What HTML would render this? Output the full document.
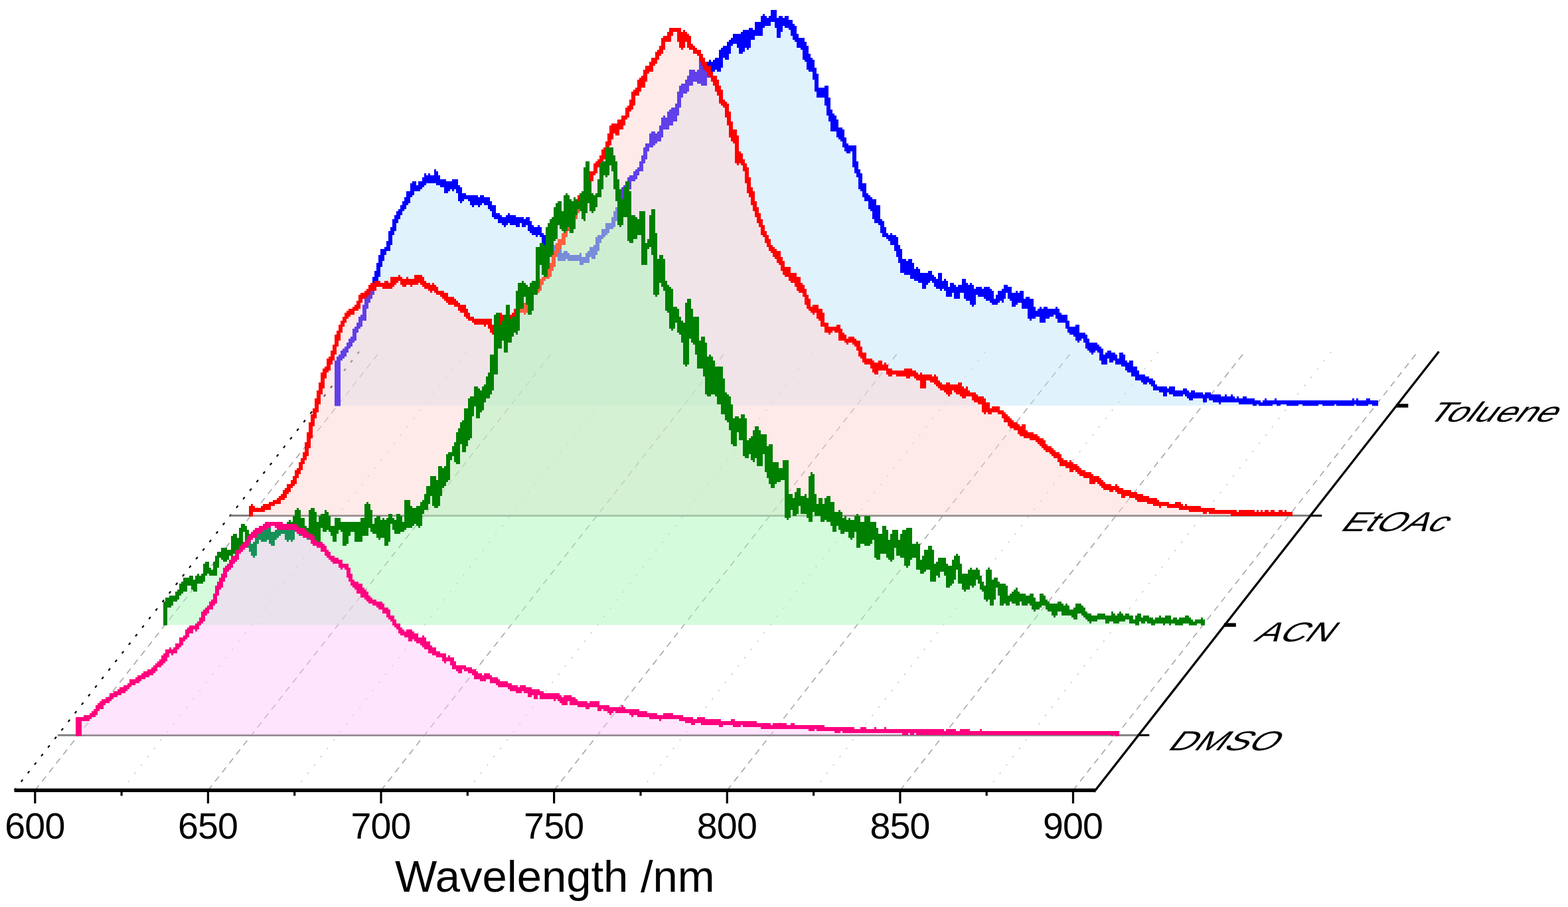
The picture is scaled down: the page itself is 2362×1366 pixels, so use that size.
<!DOCTYPE html>
<html lang="en"><head><meta charset="utf-8"><title>Wavelength /nm</title>
<style>html,body{margin:0;padding:0;background:#fff}body{width:2362px;height:1366px;overflow:hidden}svg{display:block}text{font-family:"Liberation Sans",Arial,sans-serif;fill:#000}</style></head><body>
<svg width="2362" height="1366" viewBox="0 0 2362 1366">
<defs>
<path id="fToluene" d="M508.3 546.8L510.9 539.0L513.5 540.0L516.1 532.7L518.7 534.4L521.3 524.9L523.9 523.2L526.6 519.4L529.2 511.4L531.8 513.4L534.4 501.2L537.0 495.3L539.6 491.0L542.2 488.9L544.8 478.7L547.4 479.9L550.0 464.9L552.6 454.7L555.2 451.5L557.8 446.3L560.5 439.5L563.1 433.4L565.7 419.8L568.3 414.0L570.9 401.3L573.5 394.8L576.1 378.5L578.7 379.8L581.3 374.7L583.9 374.4L586.5 365.9L589.1 352.0L591.8 346.3L594.4 337.5L597.0 328.8L599.6 326.1L602.2 318.9L604.8 316.5L607.4 313.0L610.0 304.5L612.6 305.5L615.2 291.6L617.8 292.6L620.4 289.6L623.0 276.8L625.7 284.3L628.3 282.1L630.9 285.0L633.5 275.7L636.1 277.5L638.7 276.7L641.3 265.5L643.9 273.6L646.5 264.9L649.1 272.1L651.7 273.5L654.3 270.9L656.9 259.9L659.6 276.2L662.2 272.6L664.8 278.6L667.4 273.5L670.0 276.3L672.6 287.7L675.2 277.2L677.8 276.1L680.4 276.4L683.0 282.9L685.6 272.7L688.2 281.6L690.8 282.4L693.5 301.0L696.1 296.9L698.7 294.8L701.3 297.6L703.9 297.1L706.5 296.8L709.1 298.3L711.7 307.4L714.3 298.1L716.9 298.4L719.5 301.3L722.1 307.3L724.8 303.6L727.4 297.7L730.0 304.4L732.6 305.9L735.2 301.5L737.8 306.2L740.4 313.7L743.0 312.9L745.6 325.7L748.2 323.6L750.8 325.6L753.4 332.1L756.0 329.6L758.7 330.7L761.3 337.3L763.9 333.4L766.5 325.0L769.1 327.6L771.7 336.4L774.3 328.2L776.9 331.6L779.5 337.8L782.1 331.3L784.7 331.0L787.3 330.9L789.9 338.7L792.6 332.0L795.2 331.3L797.8 339.2L800.4 348.1L803.0 344.0L805.6 351.4L808.2 352.1L810.8 343.5L813.4 351.4L816.0 353.2L818.6 356.7L821.2 365.5L823.8 369.6L826.5 369.7L829.1 374.8L831.7 369.3L834.3 378.5L836.9 372.9L839.5 378.7L842.1 377.0L844.7 389.7L847.3 383.4L849.9 389.3L852.5 380.6L855.1 387.8L857.7 390.7L860.4 387.8L863.0 388.5L865.6 388.7L868.2 388.1L870.8 387.3L873.4 385.8L876.0 395.0L878.6 390.9L881.2 391.6L883.8 392.5L886.4 383.6L889.0 380.0L891.7 376.1L894.3 386.5L896.9 372.8L899.5 373.5L902.1 356.6L904.7 358.6L907.3 356.0L909.9 347.8L912.5 351.8L915.1 340.7L917.7 338.5L920.3 341.3L922.9 340.3L925.6 329.8L928.2 321.0L930.8 316.0L933.4 315.8L936.0 294.6L938.6 288.0L941.2 282.8L943.8 289.1L946.4 281.4L949.0 270.0L951.6 267.7L954.2 269.6L956.8 264.5L959.5 258.9L962.1 256.6L964.7 254.4L967.3 244.1L969.9 239.8L972.5 229.9L975.1 219.1L977.7 219.9L980.3 217.8L982.9 201.4L985.5 215.2L988.1 209.8L990.7 204.8L993.4 209.1L996.0 195.0L998.6 189.8L1001.2 178.4L1003.8 191.2L1006.4 179.9L1009.0 169.8L1011.6 184.8L1014.2 164.3L1016.8 178.8L1019.4 163.9L1022.0 156.5L1024.7 141.6L1027.3 131.1L1029.9 129.6L1032.5 137.5L1035.1 131.8L1037.7 116.1L1040.3 124.5L1042.9 107.9L1045.5 120.7L1048.1 112.2L1050.7 113.0L1053.3 122.5L1055.9 96.3L1058.6 124.8L1061.2 125.0L1063.8 111.2L1066.4 105.9L1069.0 95.1L1071.6 107.8L1074.2 96.9L1076.8 94.9L1079.4 89.5L1082.0 104.6L1084.6 97.9L1087.2 77.0L1089.8 84.6L1092.5 72.2L1095.1 86.9L1097.7 67.9L1100.3 64.9L1102.9 63.7L1105.5 59.5L1108.1 54.8L1110.7 63.0L1113.3 55.5L1115.9 77.8L1118.5 73.0L1121.1 49.1L1123.7 47.8L1126.4 69.9L1129.0 54.6L1131.6 45.8L1134.2 55.8L1136.8 49.3L1139.4 49.2L1142.0 35.5L1144.6 51.3L1147.2 38.6L1149.8 25.6L1152.4 34.6L1155.0 31.1L1157.7 35.0L1160.3 31.1L1162.9 27.1L1165.5 17.4L1168.1 29.6L1170.7 29.1L1173.3 52.4L1175.9 27.8L1178.5 35.1L1181.1 32.5L1183.7 27.5L1186.3 39.2L1188.9 36.6L1191.6 34.2L1194.2 49.9L1196.8 42.9L1199.4 60.4L1202.0 62.6L1204.6 69.0L1207.2 59.5L1209.8 64.3L1212.4 86.7L1215.0 72.7L1217.6 97.7L1220.2 105.9L1222.8 91.9L1225.5 105.7L1228.1 111.8L1230.7 131.5L1233.3 142.5L1235.9 134.1L1238.5 137.6L1241.1 144.7L1243.7 132.4L1246.3 151.9L1248.9 170.4L1251.5 167.7L1254.1 193.5L1256.7 176.5L1259.4 187.7L1262.0 195.4L1264.6 205.5L1267.2 197.1L1269.8 206.6L1272.4 217.5L1275.0 219.6L1277.6 228.4L1280.2 221.5L1282.8 224.7L1285.4 222.2L1288.0 245.0L1290.7 259.4L1293.3 257.3L1295.9 271.0L1298.5 285.5L1301.1 279.4L1303.7 295.3L1306.3 299.1L1308.9 298.6L1311.5 309.1L1314.1 315.6L1316.7 303.4L1319.3 332.0L1321.9 312.5L1324.6 335.3L1327.2 336.0L1329.8 343.2L1332.4 354.3L1335.0 353.5L1337.6 357.3L1340.2 360.1L1342.8 355.4L1345.4 365.5L1348.0 358.3L1350.6 375.0L1353.2 371.6L1355.8 391.6L1358.5 391.9L1361.1 408.5L1363.7 393.9L1366.3 410.8L1368.9 401.4L1371.5 394.3L1374.1 416.4L1376.7 414.8L1379.3 420.8L1381.9 407.0L1384.5 417.1L1387.1 422.2L1389.7 413.8L1392.4 431.0L1395.0 413.3L1397.6 423.5L1400.2 412.2L1402.8 415.1L1405.4 419.7L1408.0 423.6L1410.6 427.8L1413.2 431.5L1415.8 415.5L1418.4 433.1L1421.0 430.7L1423.6 424.3L1426.3 433.0L1428.9 443.3L1431.5 442.1L1434.1 428.2L1436.7 434.3L1439.3 434.8L1441.9 447.1L1444.5 436.0L1447.1 432.7L1449.7 438.7L1452.3 423.2L1454.9 442.3L1457.6 449.3L1460.2 445.9L1462.8 430.0L1465.4 458.1L1468.0 444.0L1470.6 437.4L1473.2 436.6L1475.8 442.9L1478.4 436.7L1481.0 438.0L1483.6 444.9L1486.2 434.7L1488.8 449.2L1491.5 438.4L1494.1 449.5L1496.7 455.0L1499.3 452.3L1501.9 454.8L1504.5 445.7L1507.1 440.9L1509.7 451.2L1512.3 440.2L1514.9 433.0L1517.5 434.6L1520.1 434.3L1522.7 447.2L1525.4 449.1L1528.0 458.5L1530.6 442.8L1533.2 453.0L1535.8 453.5L1538.4 440.6L1541.0 456.0L1543.6 462.0L1546.2 453.0L1548.8 451.4L1551.4 478.3L1554.0 454.9L1556.6 477.5L1559.3 471.9L1561.9 474.8L1564.5 469.4L1567.1 466.2L1569.7 482.0L1572.3 483.8L1574.9 464.1L1577.5 477.3L1580.1 468.6L1582.7 474.8L1585.3 470.0L1587.9 469.6L1590.6 467.0L1593.2 468.8L1595.8 481.6L1598.4 482.5L1601.0 477.9L1603.6 476.4L1606.2 483.2L1608.8 492.5L1611.4 497.3L1614.0 499.8L1616.6 495.8L1619.2 502.1L1621.8 492.1L1624.5 511.7L1627.1 505.3L1629.7 503.1L1632.3 505.9L1634.9 508.6L1637.5 516.2L1640.1 525.2L1642.7 518.4L1645.3 529.2L1647.9 526.6L1650.5 518.1L1653.1 522.5L1655.7 524.9L1658.4 528.7L1661.0 541.8L1663.6 545.7L1666.2 535.8L1668.8 536.9L1671.4 532.6L1674.0 543.3L1676.6 534.5L1679.2 537.5L1681.8 541.4L1684.4 546.5L1687.0 544.7L1689.6 533.3L1692.3 547.6L1694.9 545.5L1697.5 550.5L1700.1 557.3L1702.7 546.5L1705.3 557.6L1707.9 563.7L1710.5 555.9L1713.1 570.1L1715.7 568.9L1718.3 569.1L1720.9 566.4L1723.6 572.6L1726.2 575.1L1728.8 570.7L1731.4 572.8L1734.0 573.4L1736.6 579.1L1739.2 581.2L1741.8 584.9L1744.4 585.0L1747.0 584.4L1749.6 587.4L1752.2 585.9L1754.8 592.3L1757.5 587.0L1760.1 587.6L1762.7 590.4L1765.3 585.0L1767.9 591.8L1770.5 594.5L1773.1 592.6L1775.7 592.9L1778.3 592.5L1780.9 591.3L1783.5 591.3L1786.1 588.4L1788.7 593.0L1791.4 594.9L1794.0 598.3L1796.6 592.6L1799.2 595.3L1801.8 596.3L1804.4 594.7L1807.0 595.2L1809.6 595.9L1812.2 596.7L1814.8 601.6L1817.4 594.3L1820.0 595.9L1822.6 595.8L1825.3 600.2L1827.9 601.1L1830.5 598.0L1833.1 602.4L1835.7 598.5L1838.3 604.2L1840.9 601.3L1843.5 603.3L1846.1 598.6L1848.7 603.5L1851.3 602.1L1853.9 600.7L1856.5 598.8L1859.2 603.8L1861.8 603.8L1864.4 601.8L1867.0 604.6L1869.6 604.9L1872.2 605.4L1874.8 601.6L1877.4 605.2L1880.0 604.5L1882.6 603.3L1885.2 605.1L1887.8 604.3L1890.5 607.4L1893.1 605.5L1895.7 606.6L1898.3 607.6L1900.9 609.3L1903.5 607.5L1906.1 604.6L1908.7 608.9L1911.3 607.0L1913.9 608.5L1916.5 607.0L1919.1 606.3L1921.7 604.8L1924.4 607.2L1927.0 608.2L1929.6 606.2L1932.2 606.2L1934.8 606.0L1937.4 606.8L1940.0 607.2L1942.6 608.3L1945.2 606.6L1947.8 607.4L1950.4 605.6L1953.0 608.6L1955.6 607.2L1958.3 605.2L1960.9 605.8L1963.5 607.0L1966.1 609.0L1968.7 607.4L1971.3 609.3L1973.9 608.0L1976.5 606.1L1979.1 606.3L1981.7 609.3L1984.3 606.3L1986.9 606.2L1989.5 606.1L1992.2 605.5L1994.8 608.5L1997.4 608.8L2000.0 605.9L2002.6 609.3L2005.2 608.9L2007.8 607.0L2010.4 605.4L2013.0 606.9L2015.6 606.9L2018.2 608.5L2020.8 606.8L2023.5 608.8L2026.1 609.3L2028.7 606.3L2031.3 606.6L2033.9 609.3L2036.5 609.3L2039.1 604.7L2041.7 606.6L2044.3 605.0L2046.9 608.0L2049.5 607.6L2052.1 606.3L2054.7 607.8L2057.4 609.2L2060.0 603.4L2062.6 605.0L2065.2 606.2L2067.8 607.3L2070.4 608.0L2073.0 607.7L2073.0 610.8L508.3 610.8Z"/>
<path id="lToluene" d="M504 543h3v68.2h-3zM507 537h3v74.2h-3zM510 534h3v77.2h-3zM513 528h3v15h-3zM516 525h3v15h-3zM519 522h3v15h-3zM522 516h3v15h-3zM525 510h3v15h-3zM528 507h3v15h-3zM531 495h3v21h-3zM534 492h3v21h-3zM537 486h3v15h-3zM540 477h3v18h-3zM543 474h3v18h-3zM546 459h3v24h-3zM549 450h3v33h-3zM552 447h3v18h-3zM555 438h3v18h-3zM558 432h3v18h-3zM561 417h3v27h-3zM564 408h3v30h-3zM567 396h3v30h-3zM570 384h3v33h-3zM573 375h3v27h-3zM576 375h3v18h-3zM579 372h3v12h-3zM582 363h3v15h-3zM585 348h3v30h-3zM588 342h3v27h-3zM591 330h3v24h-3zM594 324h3v24h-3zM597 318h3v18h-3zM600 315h3v15h-3zM603 309h3v15h-3zM606 303h3v15h-3zM609 297h3v18h-3zM612 288h3v21h-3zM615 288h3v18h-3zM618 276h3v21h-3zM621 273h3v21h-3zM624 273h3v15h-3zM627 279h3v9h-3zM630 273h3v15h-3zM633 273h3v12h-3zM636 267h3v15h-3zM639 261h3v18h-3zM642 264h3v12h-3zM645 261h3v15h-3zM648 264h6v12h-6zM654 255h3v21h-3zM657 258h3v21h-3zM660 264h3v15h-3zM663 270h6v12h-6zM669 270h3v21h-3zM672 273h3v18h-3zM675 273h3v15h-3zM678 273h3v12h-3zM681 270h3v18h-3zM684 270h3v15h-3zM687 270h3v21h-3zM690 279h3v24h-3zM693 282h3v24h-3zM696 291h3v12h-3zM699 291h3v9h-3zM702 294h3v6h-3zM705 294h3v9h-3zM708 294h3v15h-3zM711 294h3v18h-3zM714 294h6v15h-6zM720 297h3v15h-3zM723 294h3v15h-3zM726 294h3v12h-3zM729 297h6v12h-6zM735 297h3v18h-3zM738 303h3v15h-3zM741 309h3v18h-3zM744 309h3v21h-3zM747 321h3v9h-3zM750 321h3v15h-3zM753 324h3v12h-3zM756 327h3v12h-3zM759 327h3v15h-3zM762 324h3v15h-3zM765 321h3v15h-3zM768 324h9v15h-9zM777 327h6v15h-6zM783 327h3v9h-3zM786 327h3v15h-3zM789 330h3v12h-3zM792 327h3v12h-3zM795 327h3v21h-3zM798 333h3v18h-3zM801 339h3v15h-3zM804 342h3v12h-3zM807 342h3v15h-3zM810 339h3v15h-3zM813 342h3v15h-3zM816 351h3v15h-3zM819 354h3v18h-3zM822 360h3v12h-3zM825 366h6v12h-6zM831 366h3v15h-3zM834 369h6v12h-6zM840 372h3v21h-3zM843 375h3v18h-3zM846 381h3v12h-3zM849 378h3v15h-3zM852 378h3v12h-3zM855 381h3v12h-3zM858 384h15v9h-15zM873 381h3v18h-3zM876 387h3v12h-3zM879 387h3v9h-3zM882 381h3v15h-3zM885 378h3v18h-3zM888 372h3v15h-3zM891 372h3v18h-3zM894 369h3v21h-3zM897 357h3v27h-3zM900 354h3v24h-3zM903 354h3v12h-3zM906 345h3v15h-3zM909 345h3v12h-3zM912 336h3v18h-3zM915 336h3v15h-3zM918 336h3v9h-3zM921 327h3v18h-3zM924 318h3v24h-3zM927 312h3v21h-3zM930 300h3v24h-3zM933 288h3v30h-3zM936 282h3v30h-3zM939 279h6v15h-6zM945 267h3v24h-3zM948 264h3v21h-3zM951 264h3v9h-3zM954 258h3v15h-3zM957 255h3v15h-3zM960 252h3v12h-3zM963 243h3v15h-3zM966 234h3v24h-3zM969 222h3v24h-3zM972 216h3v24h-3zM975 216h3v12h-3zM978 201h3v21h-3zM981 198h3v24h-3zM984 198h3v21h-3zM987 201h3v15h-3zM990 198h3v15h-3zM993 189h3v24h-3zM996 177h3v30h-3zM999 174h3v21h-3zM1002 177h3v18h-3zM1005 168h3v27h-3zM1008 165h3v24h-3zM1011 162h3v27h-3zM1014 162h3v21h-3zM1017 156h3v27h-3zM1020 138h3v36h-3zM1023 129h3v33h-3zM1026 126h3v21h-3zM1029 126h3v15h-3zM1032 120h3v21h-3zM1035 114h3v24h-3zM1038 105h6v24h-6zM1044 105h3v18h-3zM1047 108h3v15h-3zM1050 105h3v21h-3zM1053 93h3v33h-3zM1056 93h3v36h-3zM1059 105h3v24h-3zM1062 102h3v27h-3zM1065 93h3v24h-3zM1068 90h3v21h-3zM1071 93h3v18h-3zM1074 90h3v18h-3zM1077 87h3v18h-3zM1080 87h3v21h-3zM1083 75h3v33h-3zM1086 72h3v30h-3zM1089 69h3v18h-3zM1092 69h3v21h-3zM1095 63h3v27h-3zM1098 60h3v21h-3zM1101 57h3v12h-3zM1104 51h6v15h-6zM1110 51h3v21h-3zM1113 51h3v30h-3zM1116 48h3v33h-3zM1119 45h3v33h-3zM1122 45h3v27h-3zM1125 45h3v30h-3zM1128 42h3v30h-3zM1131 42h3v18h-3zM1134 45h3v15h-3zM1137 33h9v21h-9zM1146 24h3v30h-3zM1149 21h3v21h-3zM1152 24h3v15h-3zM1155 27h3v12h-3zM1158 24h3v15h-3zM1161 15h6v18h-6zM1167 15h3v27h-3zM1170 27h3v30h-3zM1173 24h3v33h-3zM1176 24h3v24h-3zM1179 27h3v12h-3zM1182 24h6v18h-6zM1188 30h3v15h-3zM1191 30h3v24h-3zM1194 36h3v24h-3zM1197 39h3v24h-3zM1200 51h3v21h-3zM1203 57h3v15h-3zM1206 57h3v18h-3zM1209 57h3v33h-3zM1212 63h3v30h-3zM1215 69h3v36h-3zM1218 81h3v27h-3zM1221 87h3v21h-3zM1224 90h3v30h-3zM1227 102h3v36h-3zM1230 111h3v36h-3zM1233 132h9v15h-9zM1242 129h3v30h-3zM1245 129h3v45h-3zM1248 147h3v36h-3zM1251 165h3v33h-3zM1254 171h3v27h-3zM1257 174h3v24h-3zM1260 180h3v27h-3zM1263 192h3v18h-3zM1266 192h3v21h-3zM1269 195h3v27h-3zM1272 207h3v21h-3zM1275 216h3v15h-3zM1278 219h3v12h-3zM1281 219h3v9h-3zM1284 219h3v33h-3zM1287 219h3v42h-3zM1290 243h3v24h-3zM1293 255h3v30h-3zM1296 261h3v27h-3zM1299 276h3v21h-3zM1302 276h3v27h-3zM1305 291h3v12h-3zM1308 294h3v21h-3zM1311 297h3v21h-3zM1314 300h3v30h-3zM1317 300h3v36h-3zM1320 309h3v27h-3zM1323 309h3v30h-3zM1326 330h3v21h-3zM1329 333h3v24h-3zM1332 342h3v15h-3zM1335 351h3v9h-3zM1338 354h3v9h-3zM1341 351h3v18h-3zM1344 354h3v15h-3zM1347 354h3v24h-3zM1350 357h3v30h-3zM1353 369h3v27h-3zM1356 375h3v36h-3zM1359 390h3v21h-3zM1362 390h3v24h-3zM1365 393h3v21h-3zM1368 390h3v24h-3zM1371 390h3v30h-3zM1374 396h3v24h-3zM1377 405h3v18h-3zM1380 402h3v21h-3zM1383 405h3v21h-3zM1386 411h3v15h-3zM1389 411h6v24h-6zM1395 411h3v18h-3zM1398 408h3v18h-3zM1401 408h3v15h-3zM1404 414h3v12h-3zM1407 417h3v15h-3zM1410 420h3v15h-3zM1413 411h3v24h-3zM1416 411h3v27h-3zM1419 423h3v12h-3zM1422 420h3v18h-3zM1425 423h3v24h-3zM1428 432h3v15h-3zM1431 426h3v21h-3zM1434 426h3v15h-3zM1437 429h3v21h-3zM1440 432h3v18h-3zM1443 429h3v21h-3zM1446 429h3v12h-3zM1449 420h3v21h-3zM1452 420h3v30h-3zM1455 426h3v27h-3zM1458 429h3v24h-3zM1461 426h3v33h-3zM1464 429h3v33h-3zM1467 435h3v24h-3zM1470 432h3v12h-3zM1473 432h6v15h-6zM1479 435h3v12h-3zM1482 432h3v18h-3zM1485 432h6v21h-6zM1491 435h3v21h-3zM1494 438h3v21h-3zM1497 450h3v9h-3zM1500 444h3v15h-3zM1503 438h3v18h-3zM1506 438h3v15h-3zM1509 435h3v21h-3zM1512 429h3v21h-3zM1515 429h3v12h-3zM1518 432h3v18h-3zM1521 432h3v21h-3zM1524 441h6v21h-6zM1530 438h3v21h-3zM1533 441h3v15h-3zM1536 438h3v18h-3zM1539 438h3v27h-3zM1542 450h3v15h-3zM1545 447h3v18h-3zM1548 447h3v33h-3zM1551 450h3v33h-3zM1554 450h3v30h-3zM1557 462h3v18h-3zM1560 468h3v9h-3zM1563 465h3v12h-3zM1566 462h3v24h-3zM1569 465h3v21h-3zM1572 462h3v24h-3zM1575 462h3v18h-3zM1578 465h3v15h-3zM1581 465h6v12h-6zM1587 465h3v9h-3zM1590 462h3v18h-3zM1593 465h3v21h-3zM1596 471h3v15h-3zM1599 474h6v12h-6zM1605 474h3v21h-3zM1608 483h3v18h-3zM1611 492h6v12h-6zM1617 492h3v15h-3zM1620 489h3v24h-3zM1623 489h3v27h-3zM1626 501h3v12h-3zM1629 501h3v9h-3zM1632 501h3v15h-3zM1635 504h3v21h-3zM1638 510h3v18h-3zM1641 516h3v15h-3zM1644 516h3v18h-3zM1647 516h3v15h-3zM1650 516h3v12h-3zM1653 519h3v12h-3zM1656 522h3v21h-3zM1659 525h3v24h-3zM1662 534h3v15h-3zM1665 531h3v18h-3zM1668 528h3v12h-3zM1671 528h3v18h-3zM1674 531h3v15h-3zM1677 531h3v12h-3zM1680 534h3v15h-3zM1683 540h3v9h-3zM1686 531h3v18h-3zM1689 531h3v21h-3zM1692 534h3v18h-3zM1695 543h3v15h-3zM1698 546h3v15h-3zM1701 543h3v18h-3zM1704 543h3v24h-3zM1707 552h3v15h-3zM1710 552h3v21h-3zM1713 558h3v15h-3zM1716 564h3v9h-3zM1719 564h3v12h-3zM1722 564h3v15h-3zM1725 567h3v12h-3zM1728 567h3v9h-3zM1731 570h3v9h-3zM1734 570h3v12h-3zM1737 573h3v15h-3zM1740 579h3v9h-3zM1743 582h3v6h-3zM1746 582h6v9h-6zM1752 582h6v15h-6zM1758 585h3v6h-3zM1761 582h6v12h-6zM1767 582h3v15h-3zM1770 588h12v9h-12zM1782 585h3v9h-3zM1785 585h3v12h-3zM1788 588h3v12h-3zM1791 591h3v12h-3zM1794 588h3v15h-3zM1797 588h3v12h-3zM1800 591h12v9h-12zM1812 594h3v12h-3zM1815 591h3v15h-3zM1818 591h3v9h-3zM1821 591h3v12h-3zM1824 594h3v9h-3zM1827 594h9v12h-9zM1836 594h3v15h-3zM1839 597h6v9h-6zM1845 594h3v12h-3zM1848 597h6v9h-6zM1854 594h3v12h-3zM1857 597h3v9h-3zM1860 600h3v6h-3zM1863 597h3v9h-3zM1866 600h6v9h-6zM1872 597h6v12h-6zM1878 600h9v9h-9zM1887 600h3v11.2h-3zM1890 603h3v8.2h-3zM1893 603h3v6h-3zM1896 603h3v8.2h-3zM1899 606h3v5.2h-3zM1902 603h3v8.2h-3zM1905 600h3v11.2h-3zM1908 603h9v8.2h-9zM1917 603h3v6h-3zM1920 600h3v9h-3zM1923 603h6v8.2h-6zM1929 603h9v6h-9zM1938 603h18v8.2h-18zM1956 603h6v6h-6zM1962 603h24v8.2h-24zM1986 603h6v6h-6zM1992 603h18v8.2h-18zM2010 603h3v6h-3zM2013 603h24v8.2h-24zM2037 600h3v11.2h-3zM2040 603h3v6h-3zM2043 600h3v11.2h-3zM2046 603h12v8.2h-12zM2058 600h3v11.2h-3zM2061 600h3v9h-3zM2064 603h3v6h-3zM2067 603h9v8.2h-9z"/>
<path id="fEtOAc" d="M378.7 764.1L381.3 767.3L383.9 768.0L386.5 767.5L389.1 767.9L391.7 768.4L394.3 766.8L397.0 766.5L399.6 763.1L402.2 764.9L404.8 763.4L407.4 759.3L410.0 759.0L412.6 757.6L415.2 756.5L417.8 756.2L420.4 753.1L423.0 750.6L425.6 749.6L428.2 746.5L430.8 740.5L433.5 737.5L436.1 732.1L438.7 731.3L441.3 728.8L443.9 722.2L446.5 716.6L449.1 709.1L451.7 706.0L454.3 697.0L456.9 692.9L459.5 686.2L462.1 676.7L464.7 663.3L467.3 651.2L470.0 636.7L472.6 627.1L475.2 618.6L477.8 609.1L480.4 594.1L483.0 588.7L485.6 574.4L488.2 561.3L490.8 558.1L493.4 554.5L496.0 543.3L498.6 544.0L501.2 534.4L503.8 525.2L506.5 517.9L509.1 505.7L511.7 498.7L514.3 490.9L516.9 486.1L519.5 479.8L522.1 477.0L524.7 472.0L527.3 468.3L529.9 471.4L532.5 465.8L535.1 463.5L537.7 463.3L540.3 457.1L543.0 451.9L545.6 445.2L548.2 446.4L550.8 442.7L553.4 442.0L556.0 437.0L558.6 434.6L561.2 428.3L563.8 433.3L566.4 425.4L569.0 426.4L571.6 428.7L574.2 428.4L576.8 429.4L579.5 432.3L582.1 427.1L584.7 431.4L587.3 432.7L589.9 429.7L592.5 419.8L595.1 424.5L597.7 422.6L600.3 419.1L602.9 419.0L605.5 423.3L608.1 428.1L610.7 425.7L613.3 421.6L616.0 424.5L618.6 427.0L621.2 423.7L623.8 422.5L626.4 424.5L629.0 416.5L631.6 423.1L634.2 418.6L636.8 424.6L639.4 428.9L642.0 430.4L644.6 430.2L647.2 432.0L649.8 436.0L652.5 430.6L655.1 433.1L657.7 438.1L660.3 441.3L662.9 440.8L665.5 440.8L668.1 445.6L670.7 443.6L673.3 451.8L675.9 451.3L678.5 455.1L681.1 450.3L683.7 455.2L686.3 458.8L689.0 457.9L691.6 460.9L694.2 465.9L696.8 461.2L699.4 464.6L702.0 472.7L704.6 474.3L707.2 479.4L709.8 480.6L712.4 480.9L715.0 483.4L717.6 486.4L720.2 484.4L722.8 485.7L725.5 483.2L728.1 483.0L730.7 486.9L733.3 484.7L735.9 482.2L738.5 489.4L741.1 498.7L743.7 500.0L746.3 489.5L748.9 490.0L751.5 484.9L754.1 476.0L756.7 484.4L759.3 489.9L762.0 482.7L764.6 484.0L767.2 485.6L769.8 478.2L772.4 475.1L775.0 475.1L777.6 468.2L780.2 472.4L782.8 465.5L785.4 468.1L788.0 468.6L790.6 469.0L793.2 459.1L795.8 458.2L798.5 452.7L801.1 440.2L803.7 439.9L806.3 436.8L808.9 434.4L811.5 435.9L814.1 426.9L816.7 423.1L819.3 419.7L821.9 416.7L824.5 415.0L827.1 415.0L829.7 402.1L832.3 400.7L835.0 385.7L837.6 380.2L840.2 378.9L842.8 364.5L845.4 367.2L848.0 365.0L850.6 352.0L853.2 347.3L855.8 344.8L858.4 337.8L861.0 334.2L863.6 326.4L866.2 326.5L868.8 318.4L871.5 310.7L874.1 296.1L876.7 295.5L879.3 292.0L881.9 288.2L884.5 276.8L887.1 275.9L889.7 271.3L892.3 260.4L894.9 261.1L897.5 253.1L900.1 245.0L902.7 244.5L905.3 244.7L908.0 235.0L910.6 227.3L913.2 224.7L915.8 218.6L918.4 210.5L921.0 196.1L923.6 188.2L926.2 188.4L928.8 200.1L931.4 194.2L934.0 182.7L936.6 190.4L939.2 176.9L941.8 178.0L944.5 174.7L947.1 163.9L949.7 162.2L952.3 156.7L954.9 139.4L957.5 141.2L960.1 138.8L962.7 129.5L965.3 121.0L967.9 129.2L970.5 118.4L973.1 109.1L975.7 102.4L978.3 101.8L981.0 103.6L983.6 91.9L986.2 92.8L988.8 88.0L991.4 81.6L994.0 78.7L996.6 74.7L999.2 64.8L1001.8 56.0L1004.4 60.3L1007.0 59.4L1009.6 51.0L1012.2 44.5L1014.8 45.3L1017.5 44.5L1020.1 44.5L1022.7 45.8L1025.3 62.5L1027.9 70.0L1030.5 50.1L1033.1 56.7L1035.7 55.1L1038.3 66.9L1040.9 70.8L1043.5 71.6L1046.1 75.2L1048.7 77.7L1051.3 78.2L1054.0 80.8L1056.6 88.6L1059.2 89.4L1061.8 100.7L1064.4 103.1L1067.0 101.7L1069.6 110.6L1072.2 114.9L1074.8 119.8L1077.4 118.6L1080.0 133.2L1082.6 132.2L1085.2 142.3L1087.8 153.9L1090.5 157.2L1093.1 158.2L1095.7 166.6L1098.3 182.8L1100.9 189.3L1103.5 208.2L1106.1 198.5L1108.7 209.7L1111.3 244.6L1113.9 231.8L1116.5 239.2L1119.1 246.7L1121.7 249.0L1124.3 258.0L1127.0 272.9L1129.6 287.8L1132.2 291.0L1134.8 304.4L1137.4 311.2L1140.0 318.6L1142.6 326.7L1145.2 337.0L1147.8 340.8L1150.4 351.6L1153.0 355.4L1155.6 359.5L1158.2 368.7L1160.8 373.7L1163.5 376.0L1166.1 379.2L1168.7 386.2L1171.3 380.7L1173.9 393.9L1176.5 391.4L1179.1 399.2L1181.7 411.1L1184.3 413.9L1186.9 404.2L1189.5 415.8L1192.1 421.9L1194.7 413.4L1197.4 417.7L1200.0 428.5L1202.6 420.7L1205.2 438.7L1207.8 430.2L1210.4 437.9L1213.0 443.9L1215.6 450.6L1218.2 461.8L1220.8 465.4L1223.4 467.4L1226.0 469.1L1228.6 462.3L1231.2 467.4L1233.9 476.1L1236.5 469.3L1239.1 487.4L1241.7 488.4L1244.3 489.2L1246.9 498.4L1249.5 499.3L1252.1 494.2L1254.7 495.3L1257.3 495.0L1259.9 497.2L1262.5 491.6L1265.1 500.3L1267.7 510.5L1270.4 505.0L1273.0 510.6L1275.6 514.1L1278.2 512.7L1280.8 510.9L1283.4 511.4L1286.0 512.2L1288.6 516.9L1291.2 515.3L1293.8 523.0L1296.4 533.8L1299.0 536.5L1301.6 535.5L1304.2 546.0L1306.9 544.6L1309.5 544.4L1312.1 543.4L1314.7 545.7L1317.3 558.8L1319.9 559.4L1322.5 555.8L1325.1 545.5L1327.7 550.8L1330.3 555.5L1332.9 550.6L1335.5 555.6L1338.1 558.8L1340.7 562.4L1343.4 559.8L1346.0 561.4L1348.6 560.7L1351.2 561.2L1353.8 563.2L1356.4 561.7L1359.0 564.9L1361.6 562.3L1364.2 559.4L1366.8 566.1L1369.4 558.2L1372.0 562.6L1374.6 563.6L1377.2 561.3L1379.9 566.3L1382.5 569.8L1385.1 568.3L1387.7 566.1L1390.3 582.4L1392.9 568.2L1395.5 568.8L1398.1 568.2L1400.7 568.7L1403.3 572.2L1405.9 572.9L1408.5 569.0L1411.1 575.7L1413.7 579.9L1416.4 578.7L1419.0 585.7L1421.6 583.2L1424.2 587.0L1426.8 579.8L1429.4 592.3L1432.0 585.1L1434.6 582.3L1437.2 583.5L1439.8 584.6L1442.4 589.7L1445.0 579.6L1447.6 585.4L1450.2 594.4L1452.9 595.6L1455.5 586.8L1458.1 592.7L1460.7 594.1L1463.3 593.7L1465.9 593.9L1468.5 601.2L1471.1 598.6L1473.7 602.3L1476.3 606.5L1478.9 601.7L1481.5 604.2L1484.1 618.9L1486.7 608.3L1489.4 618.4L1492.0 620.0L1494.6 616.8L1497.2 616.2L1499.8 617.9L1502.4 616.4L1505.0 620.5L1507.6 621.2L1510.2 621.8L1512.8 624.6L1515.4 631.4L1518.0 630.6L1520.6 632.1L1523.2 642.4L1525.9 638.0L1528.5 643.0L1531.1 640.4L1533.7 642.2L1536.3 649.7L1538.9 653.2L1541.5 641.6L1544.1 655.0L1546.7 656.7L1549.3 655.3L1551.9 658.7L1554.5 654.3L1557.1 660.6L1559.7 657.2L1562.4 661.9L1565.0 663.3L1567.6 667.1L1570.2 664.2L1572.8 671.6L1575.4 674.0L1578.0 678.6L1580.6 675.3L1583.2 680.9L1585.8 679.6L1588.4 685.6L1591.0 684.5L1593.6 685.6L1596.2 689.3L1598.9 697.8L1601.5 699.4L1604.1 697.3L1606.7 699.1L1609.3 701.4L1611.9 697.7L1614.5 708.7L1617.1 702.1L1619.7 702.9L1622.3 707.1L1624.9 706.5L1627.5 711.5L1630.1 713.9L1632.7 712.9L1635.4 715.8L1638.0 715.4L1640.6 714.3L1643.2 716.8L1645.8 726.2L1648.4 722.3L1651.0 719.4L1653.6 722.3L1656.2 724.1L1658.8 728.9L1661.4 728.5L1664.0 732.6L1666.6 734.7L1669.2 732.8L1671.9 733.8L1674.5 736.4L1677.1 734.0L1679.7 735.4L1682.3 733.6L1684.9 740.0L1687.5 737.7L1690.1 741.2L1692.7 746.6L1695.3 740.0L1697.9 742.7L1700.5 742.6L1703.1 743.3L1705.7 747.7L1708.4 744.1L1711.0 748.6L1713.6 749.0L1716.2 751.5L1718.8 747.1L1721.4 748.8L1724.0 753.6L1726.6 749.3L1729.2 753.6L1731.8 755.9L1734.4 752.1L1737.0 753.6L1739.6 757.5L1742.2 754.6L1744.9 758.7L1747.5 759.9L1750.1 758.7L1752.7 759.0L1755.3 759.6L1757.9 759.2L1760.5 761.9L1763.1 762.3L1765.7 761.6L1768.3 762.5L1770.9 760.5L1773.5 761.6L1776.1 760.3L1778.7 762.9L1781.4 765.3L1784.0 764.8L1786.6 764.1L1789.2 764.7L1791.8 765.0L1794.4 767.2L1797.0 764.7L1799.6 768.1L1802.2 767.5L1804.8 765.3L1807.4 768.2L1810.0 768.7L1812.6 767.6L1815.2 770.5L1817.9 767.8L1820.5 768.6L1823.1 769.6L1825.7 770.3L1828.3 769.9L1830.9 771.4L1833.5 770.1L1836.1 771.6L1838.7 771.1L1841.3 771.5L1843.9 770.6L1846.5 771.6L1849.1 770.3L1851.7 770.5L1854.4 771.9L1857.0 772.9L1859.6 771.2L1862.2 772.7L1864.8 774.5L1867.4 772.9L1870.0 773.0L1872.6 772.4L1875.2 770.7L1877.8 772.2L1880.4 772.7L1883.0 771.6L1885.6 772.9L1888.2 772.1L1890.9 773.6L1893.5 773.0L1896.1 773.2L1898.7 773.4L1901.3 772.9L1903.9 774.5L1906.5 772.1L1909.1 772.4L1911.7 773.2L1914.3 773.4L1916.9 772.1L1919.5 774.2L1922.1 773.2L1924.7 774.0L1927.4 772.9L1930.0 773.0L1932.6 773.7L1935.2 773.1L1937.8 772.9L1940.4 773.8L1943.0 774.2L1943.0 776.4L378.7 776.4Z"/>
<path id="lEtOAc" d="M375 762h3v16h-3zM378 759h3v19h-3zM381 762h3v9h-3zM384 765h9v6h-9zM393 762h3v9h-3zM396 759h3v12h-3zM399 759h6v9h-6zM405 756h3v12h-3zM408 756h3v6h-3zM411 753h3v9h-3zM414 753h3v6h-3zM417 750h3v9h-3zM420 747h3v12h-3zM423 744h3v9h-3zM426 738h3v15h-3zM429 735h3v15h-3zM432 729h3v15h-3zM435 729h3v12h-3zM438 723h3v12h-3zM441 717h3v15h-3zM444 708h3v21h-3zM447 705h3v15h-3zM450 696h3v18h-3zM453 690h3v18h-3zM456 681h3v18h-3zM459 666h3v27h-3zM462 651h3v36h-3zM465 636h3v39h-3zM468 624h3v36h-3zM471 615h3v27h-3zM474 600h3v30h-3zM477 588h3v33h-3zM480 576h3v33h-3zM483 561h3v33h-3zM486 555h3v30h-3zM489 552h3v18h-3zM492 540h3v21h-3zM495 537h3v21h-3zM498 528h3v21h-3zM501 519h3v24h-3zM504 504h3v30h-3zM507 498h3v24h-3zM510 489h3v24h-3zM513 483h3v18h-3zM516 477h3v15h-3zM519 471h3v15h-3zM522 468h3v12h-3zM525 465h3v12h-3zM528 465h3v9h-3zM531 462h3v12h-3zM534 459h3v9h-3zM537 453h3v15h-3zM540 444h3v21h-3zM543 441h3v15h-3zM546 441h3v9h-3zM549 438h3v12h-3zM552 435h3v12h-3zM555 429h3v15h-3zM558 426h6v12h-6zM564 423h3v15h-3zM567 423h6v9h-6zM573 426h3v6h-3zM576 426h3v9h-3zM579 423h6v12h-6zM585 426h3v9h-3zM588 417h3v18h-3zM591 417h3v15h-3zM594 417h3v12h-3zM597 417h3v9h-3zM600 414h3v9h-3zM603 417h3v12h-3zM606 420h6v12h-6zM612 417h3v12h-3zM615 420h3v9h-3zM618 420h3v12h-3zM621 420h3v9h-3zM624 414h6v15h-6zM630 414h3v12h-3zM633 414h3v15h-3zM636 417h3v15h-3zM639 423h3v12h-3zM642 426h3v9h-3zM645 426h3v12h-3zM648 429h3v12h-3zM651 426h3v12h-3zM654 429h3v12h-3zM657 432h3v12h-3zM660 438h3v6h-3zM663 438h3v9h-3zM666 438h3v12h-3zM669 441h3v12h-3zM672 441h3v15h-3zM675 447h9v12h-9zM684 450h3v12h-3zM687 453h3v9h-3zM690 456h3v12h-3zM693 459h6v12h-6zM699 459h3v18h-3zM702 465h3v15h-3zM705 471h3v12h-3zM708 477h3v6h-3zM711 477h3v9h-3zM714 480h15v9h-15zM729 480h3v12h-3zM732 480h3v9h-3zM735 480h3v15h-3zM738 480h3v21h-3zM741 489h3v15h-3zM744 486h3v18h-3zM747 483h3v12h-3zM750 474h3v18h-3zM753 471h3v18h-3zM756 474h3v18h-3zM759 480h3v12h-3zM762 480h3v9h-3zM765 477h3v12h-3zM768 474h3v15h-3zM771 471h3v12h-3zM774 465h3v15h-3zM777 465h3v12h-3zM780 462h3v15h-3zM783 462h3v9h-3zM786 465h3v6h-3zM789 456h3v18h-3zM792 456h3v15h-3zM795 444h3v18h-3zM798 438h3v21h-3zM801 435h3v15h-3zM804 432h3v12h-3zM807 432h3v9h-3zM810 423h3v18h-3zM813 420h3v18h-3zM816 417h3v12h-3zM819 414h3v9h-3zM822 411h3v9h-3zM825 399h3v21h-3zM828 396h3v21h-3zM831 381h3v27h-3zM834 378h3v24h-3zM837 366h3v21h-3zM840 360h3v21h-3zM843 360h3v15h-3zM846 351h3v18h-3zM849 345h3v24h-3zM852 339h3v18h-3zM855 333h3v15h-3zM858 327h3v18h-3zM861 324h3v15h-3zM864 318h3v15h-3zM867 306h3v24h-3zM870 294h3v27h-3zM873 291h3v21h-3zM876 288h3v12h-3zM879 279h3v18h-3zM882 273h3v18h-3zM885 270h3v15h-3zM888 258h3v21h-3zM891 258h3v15h-3zM894 246h3v18h-3zM897 243h3v18h-3zM900 240h3v12h-3zM903 234h3v15h-3zM906 225h3v24h-3zM909 222h3v18h-3zM912 213h3v18h-3zM915 201h3v24h-3zM918 189h3v30h-3zM921 186h3v24h-3zM924 186h3v15h-3zM927 186h3v18h-3zM930 180h3v24h-3zM933 180h3v15h-3zM936 174h3v21h-3zM939 174h3v15h-3zM942 162h3v18h-3zM945 159h3v18h-3zM948 150h3v18h-3zM951 138h3v27h-3zM954 135h3v24h-3zM957 132h3v12h-3zM960 120h3v24h-3zM963 117h3v21h-3zM966 114h3v18h-3zM969 105h3v27h-3zM972 99h3v24h-3zM975 99h3v12h-3zM978 93h3v15h-3zM981 87h3v21h-3zM984 87h3v12h-3zM987 78h3v18h-3zM990 75h3v15h-3zM993 69h3v15h-3zM996 57h3v24h-3zM999 54h3v21h-3zM1002 54h3v9h-3zM1005 48h3v15h-3zM1008 42h3v21h-3zM1011 42h3v12h-3zM1014 42h6v6h-6zM1020 42h3v21h-3zM1023 42h3v30h-3zM1026 48h3v27h-3zM1029 45h3v27h-3zM1032 48h3v15h-3zM1035 51h3v21h-3zM1038 54h3v21h-3zM1041 66h3v9h-3zM1044 69h3v12h-3zM1047 72h3v9h-3zM1050 75h3v9h-3zM1053 75h3v18h-3zM1056 81h3v18h-3zM1059 87h3v18h-3zM1062 93h3v15h-3zM1065 99h3v15h-3zM1068 99h3v18h-3zM1071 108h3v15h-3zM1074 114h3v15h-3zM1077 114h3v24h-3zM1080 120h3v24h-3zM1083 129h3v27h-3zM1086 135h3v24h-3zM1089 150h3v12h-3zM1092 153h3v24h-3zM1095 156h3v33h-3zM1098 168h3v39h-3zM1101 183h3v30h-3zM1104 195h3v21h-3zM1107 195h3v51h-3zM1110 204h3v45h-3zM1113 228h3v18h-3zM1116 231h3v18h-3zM1119 240h3v18h-3zM1122 246h3v30h-3zM1125 252h3v39h-3zM1128 267h3v30h-3zM1131 282h3v27h-3zM1134 288h3v30h-3zM1137 303h3v24h-3zM1140 312h3v24h-3zM1143 321h3v21h-3zM1146 330h3v24h-3zM1149 339h3v18h-3zM1152 348h3v18h-3zM1155 354h3v18h-3zM1158 360h3v18h-3zM1161 369h3v12h-3zM1164 372h3v15h-3zM1167 375h3v15h-3zM1170 378h3v18h-3zM1173 378h3v21h-3zM1176 387h3v21h-3zM1179 393h3v21h-3zM1182 402h6v15h-6zM1188 402h3v21h-3zM1191 411h6v15h-6zM1197 411h3v21h-3zM1200 417h3v21h-3zM1203 417h3v24h-3zM1206 426h3v15h-3zM1209 429h3v18h-3zM1212 435h3v24h-3zM1215 444h3v21h-3zM1218 450h3v18h-3zM1221 462h3v9h-3zM1224 459h3v15h-3zM1227 459h3v12h-3zM1230 459h3v21h-3zM1233 465h3v18h-3zM1236 465h3v27h-3zM1239 471h3v21h-3zM1242 486h6v15h-6zM1248 492h3v12h-3zM1251 492h3v9h-3zM1254 492h3v6h-3zM1257 492h3v9h-3zM1260 489h3v12h-3zM1263 489h3v24h-3zM1266 495h3v18h-3zM1269 501h3v12h-3zM1272 504h3v12h-3zM1275 510h3v9h-3zM1278 507h6v9h-6zM1284 507h3v12h-3zM1287 510h3v12h-3zM1290 513h3v15h-3zM1293 513h3v24h-3zM1296 522h3v18h-3zM1299 531h3v15h-3zM1302 531h3v18h-3zM1305 540h6v9h-6zM1311 540h3v15h-3zM1314 543h3v18h-3zM1317 546h6v18h-6zM1323 543h6v15h-6zM1329 549h3v9h-3zM1332 546h3v12h-3zM1335 549h3v15h-3zM1338 555h6v12h-6zM1344 558h6v6h-6zM1350 558h12v9h-12zM1362 555h3v12h-3zM1365 555h6v15h-6zM1371 555h3v12h-3zM1374 558h3v9h-3zM1377 558h3v12h-3zM1380 561h3v12h-3zM1383 564h3v9h-3zM1386 561h3v24h-3zM1389 564h6v21h-6zM1395 564h6v9h-6zM1401 564h3v12h-3zM1404 567h3v9h-3zM1407 564h3v15h-3zM1410 567h3v15h-3zM1413 573h3v12h-3zM1416 576h3v12h-3zM1419 579h3v9h-3zM1422 579h3v12h-3zM1425 576h3v18h-3zM1428 576h3v21h-3zM1431 579h3v15h-3zM1434 579h3v9h-3zM1437 579h3v12h-3zM1440 579h3v15h-3zM1443 576h3v18h-3zM1446 576h3v21h-3zM1449 582h3v18h-3zM1452 585h3v15h-3zM1455 582h3v15h-3zM1458 588h3v9h-3zM1461 591h3v6h-3zM1464 591h3v12h-3zM1467 591h3v15h-3zM1470 594h3v12h-3zM1473 597h6v12h-6zM1479 597h3v24h-3zM1482 600h3v24h-3zM1485 606h3v15h-3zM1488 606h3v18h-3zM1491 615h3v9h-3zM1494 612h9v9h-9zM1503 612h3v12h-3zM1506 618h3v6h-3zM1509 618h3v12h-3zM1512 621h3v15h-3zM1515 624h3v12h-3zM1518 627h3v15h-3zM1521 630h3v15h-3zM1524 633h3v12h-3zM1527 636h6v12h-6zM1533 639h3v15h-3zM1536 642h3v15h-3zM1539 639h3v18h-3zM1542 639h3v21h-3zM1545 648h3v12h-3zM1548 651h3v9h-3zM1551 651h6v12h-6zM1557 654h3v9h-3zM1560 654h3v12h-3zM1563 657h3v12h-3zM1566 660h3v12h-3zM1569 660h3v15h-3zM1572 663h3v15h-3zM1575 669h3v12h-3zM1578 672h3v9h-3zM1581 672h3v12h-3zM1584 675h3v12h-3zM1587 678h3v12h-3zM1590 681h3v9h-3zM1593 681h3v15h-3zM1596 684h3v18h-3zM1599 690h3v12h-3zM1602 693h3v9h-3zM1605 693h3v12h-3zM1608 696h3v9h-3zM1611 693h3v18h-3zM1614 696h3v15h-3zM1617 699h3v9h-3zM1620 699h3v12h-3zM1623 702h3v12h-3zM1626 705h3v12h-3zM1629 708h3v9h-3zM1632 708h3v12h-3zM1635 711h6v9h-6zM1641 711h3v18h-3zM1644 714h3v15h-3zM1647 717h3v12h-3zM1650 717h3v9h-3zM1653 717h3v12h-3zM1656 720h3v12h-3zM1659 723h3v12h-3zM1662 726h3v12h-3zM1665 729h6v9h-6zM1671 729h3v12h-3zM1674 732h3v9h-3zM1677 732h3v6h-3zM1680 729h3v12h-3zM1683 732h3v12h-3zM1686 735h3v9h-3zM1689 735h3v15h-3zM1692 738h3v12h-3zM1695 738h6v9h-6zM1701 738h3v12h-3zM1704 741h6v9h-6zM1710 741h3v12h-3zM1713 744h9v12h-9zM1722 747h6v9h-6zM1728 747h3v12h-3zM1731 750h6v9h-6zM1737 750h6v12h-6zM1743 753h3v9h-3zM1746 756h3v9h-3zM1749 756h9v6h-9zM1758 756h3v9h-3zM1761 759h9v6h-9zM1770 756h6v9h-6zM1776 756h3v12h-3zM1779 759h3v9h-3zM1782 762h3v6h-3zM1785 759h3v9h-3zM1788 762h3v6h-3zM1791 762h18v9h-18zM1809 765h3v6h-3zM1812 765h6v9h-6zM1818 765h3v6h-3zM1821 765h9v9h-9zM1830 768h24v6h-24zM1854 768h9v9h-9zM1863 771h3v6h-3zM1866 768h24v9h-24zM1890 771h3v6h-3zM1893 768h3v9h-3zM1896 771h3v6h-3zM1899 768h3v9h-3zM1902 771h3v6h-3zM1905 768h6v9h-6zM1911 771h3v6h-3zM1914 768h6v9h-6zM1920 771h6v6h-6zM1926 768h6v9h-6zM1932 771h3v6h-3zM1935 768h3v9h-3zM1938 771h9v6h-9z"/>
<path id="fACN" d="M248.9 912.0L251.5 904.3L254.1 911.7L256.7 909.1L259.3 900.4L261.9 899.3L264.5 902.6L267.1 896.5L269.7 891.9L272.3 889.7L275.0 879.7L277.6 888.5L280.2 873.1L282.8 879.6L285.4 878.1L288.0 869.8L290.6 878.0L293.2 887.1L295.8 874.4L298.4 867.8L301.0 872.9L303.6 876.2L306.2 868.3L308.8 862.7L311.4 849.5L314.0 860.2L316.6 859.1L319.2 864.3L321.8 864.7L324.4 858.3L327.1 840.0L329.7 836.9L332.3 833.7L334.9 839.0L337.5 827.3L340.1 842.1L342.7 832.8L345.3 832.8L347.9 834.7L350.5 828.8L353.1 807.0L355.7 833.0L358.3 819.1L360.9 819.6L363.5 800.0L366.1 791.5L368.7 796.0L371.3 801.6L373.9 821.4L376.6 822.7L379.2 828.7L381.8 835.4L384.4 819.4L387.0 816.6L389.6 808.2L392.2 807.1L394.8 798.0L397.4 813.4L400.0 810.4L402.6 802.2L405.2 797.3L407.8 809.7L410.4 818.2L413.0 805.8L415.6 807.9L418.2 799.4L420.8 802.2L423.4 800.3L426.1 798.9L428.7 793.9L431.3 802.8L433.9 811.5L436.5 787.3L439.1 811.7L441.7 792.2L444.3 792.2L446.9 772.8L449.5 769.7L452.1 803.3L454.7 783.5L457.3 803.8L459.9 795.6L462.5 798.0L465.1 810.6L467.7 796.1L470.3 767.5L472.9 776.9L475.5 805.3L478.2 815.4L480.8 791.2L483.4 784.2L486.0 776.6L488.6 798.7L491.2 773.1L493.8 780.1L496.4 796.4L499.0 798.2L501.6 796.8L504.2 811.5L506.8 784.7L509.4 783.6L512.0 790.8L514.6 795.7L517.2 791.1L519.8 817.8L522.4 788.1L525.0 802.3L527.7 788.2L530.3 798.7L532.9 789.9L535.5 790.2L538.1 813.1L540.7 789.5L543.3 812.9L545.9 783.4L548.5 786.0L551.1 804.2L553.7 760.8L556.3 770.0L558.9 790.3L561.5 797.7L564.1 801.9L566.7 793.7L569.3 780.9L571.9 807.9L574.5 803.3L577.2 784.4L579.8 798.7L582.4 818.2L585.0 795.7L587.6 777.3L590.2 785.1L592.8 785.4L595.4 794.3L598.0 801.4L600.6 778.2L603.2 781.2L605.8 798.1L608.4 788.8L611.0 793.3L613.6 755.8L616.2 763.9L618.8 791.6L621.4 767.1L624.0 784.1L626.6 777.2L629.3 764.4L631.9 790.0L634.5 766.4L637.1 757.3L639.7 760.1L642.3 763.9L644.9 736.7L647.5 744.2L650.1 735.2L652.7 719.7L655.3 759.2L657.9 761.5L660.5 753.5L663.1 705.1L665.7 731.6L668.3 730.4L670.9 706.2L673.5 722.2L676.1 687.9L678.8 684.3L681.4 683.7L684.0 680.8L686.6 670.8L689.2 695.4L691.8 652.6L694.4 651.1L697.0 637.3L699.6 678.1L702.2 618.7L704.8 638.0L707.4 657.9L710.0 600.5L712.6 603.0L715.2 607.9L717.8 585.1L720.4 627.1L723.0 590.4L725.6 613.9L728.3 598.8L730.9 583.8L733.5 597.0L736.1 568.4L738.7 590.7L741.3 538.4L743.9 541.5L746.5 561.0L749.1 473.5L751.7 521.7L754.3 498.2L756.9 491.8L759.5 485.7L762.1 526.2L764.7 462.6L767.3 512.3L769.9 503.0L772.5 481.5L775.1 486.5L777.7 499.0L780.4 460.5L783.0 429.1L785.6 462.0L788.2 428.1L790.8 430.7L793.4 435.4L796.0 447.1L798.6 470.2L801.2 433.2L803.8 426.2L806.4 441.6L809.0 426.6L811.6 375.1L814.2 394.4L816.8 368.9L819.4 407.4L822.0 414.3L824.6 383.7L827.2 341.1L829.9 382.0L832.5 331.0L835.1 358.8L837.7 317.6L840.3 309.9L842.9 306.9L845.5 341.5L848.1 320.7L850.7 346.1L853.3 295.9L855.9 337.8L858.5 303.0L861.1 347.6L863.7 337.4L866.3 301.6L868.9 307.9L871.5 309.5L874.1 313.7L876.7 292.6L879.4 328.0L882.0 284.4L884.6 245.9L887.2 302.9L889.8 292.7L892.4 316.7L895.0 309.6L897.6 296.3L900.2 294.6L902.8 293.5L905.4 268.5L908.0 246.1L910.6 248.7L913.2 261.9L915.8 224.5L918.4 239.9L921.0 224.5L923.6 255.3L926.2 247.4L928.8 283.2L931.5 287.9L934.1 337.2L936.7 302.4L939.3 312.3L941.9 324.3L944.5 277.5L947.1 297.0L949.7 362.6L952.3 338.5L954.9 327.2L957.5 355.9L960.1 332.7L962.7 342.9L965.3 350.2L967.9 320.4L970.5 395.9L973.1 370.2L975.7 372.6L978.3 366.5L981.0 358.9L983.6 318.5L986.2 384.2L988.8 442.2L991.4 420.1L994.0 395.8L996.6 387.4L999.2 418.8L1001.8 435.6L1004.4 433.1L1007.0 467.1L1009.6 436.0L1012.2 492.9L1014.8 477.2L1017.4 464.3L1020.0 473.1L1022.6 489.8L1025.2 501.5L1027.8 488.0L1030.5 502.7L1033.1 547.8L1035.7 459.0L1038.3 454.6L1040.9 506.1L1043.5 486.2L1046.1 514.3L1048.7 479.4L1051.3 522.2L1053.9 552.4L1056.5 552.4L1059.1 509.5L1061.7 534.5L1064.3 567.6L1066.9 592.9L1069.5 538.1L1072.1 544.4L1074.7 590.2L1077.3 564.1L1079.9 555.7L1082.6 604.5L1085.2 554.5L1087.8 581.1L1090.4 620.8L1093.0 595.8L1095.6 631.4L1098.2 599.3L1100.8 645.0L1103.4 643.4L1106.0 667.8L1108.6 632.5L1111.2 631.2L1113.8 637.0L1116.4 660.3L1119.0 626.3L1121.6 640.8L1124.2 687.6L1126.8 672.4L1129.4 679.1L1132.1 661.9L1134.7 691.4L1137.3 653.1L1139.9 646.0L1142.5 655.4L1145.1 699.7L1147.7 675.4L1150.3 656.5L1152.9 673.1L1155.5 695.8L1158.1 717.1L1160.7 671.8L1163.3 730.9L1165.9 726.1L1168.5 698.4L1171.1 705.5L1173.7 723.3L1176.3 711.0L1178.9 721.0L1181.5 702.5L1184.2 695.2L1186.8 778.9L1189.4 746.7L1192.0 751.3L1194.6 758.7L1197.2 775.0L1199.8 769.9L1202.4 738.2L1205.0 755.0L1207.6 759.0L1210.2 771.5L1212.8 748.9L1215.4 766.0L1218.0 763.7L1220.6 783.7L1223.2 715.8L1225.8 762.3L1228.4 767.5L1231.0 774.7L1233.7 765.1L1236.3 753.6L1238.9 781.4L1241.5 778.3L1244.1 759.2L1246.7 750.7L1249.3 782.9L1251.9 758.2L1254.5 783.4L1257.1 797.7L1259.7 774.7L1262.3 774.7L1264.9 772.8L1267.5 796.3L1270.1 800.0L1272.7 782.0L1275.3 798.0L1277.9 790.6L1280.5 784.6L1283.2 808.0L1285.8 796.5L1288.4 786.7L1291.0 778.6L1293.6 820.5L1296.2 790.9L1298.8 789.6L1301.4 803.3L1304.0 819.2L1306.6 780.2L1309.2 817.6L1311.8 813.7L1314.4 788.2L1317.0 789.5L1319.6 804.7L1322.2 838.8L1324.8 806.4L1327.4 830.1L1330.0 830.9L1332.6 795.4L1335.3 821.8L1337.9 837.6L1340.5 815.5L1343.1 841.2L1345.7 806.8L1348.3 800.9L1350.9 816.3L1353.5 832.8L1356.1 817.2L1358.7 837.2L1361.3 802.1L1363.9 818.9L1366.5 850.2L1369.1 797.7L1371.7 839.4L1374.3 824.0L1376.9 827.6L1379.5 835.0L1382.1 820.7L1384.8 855.1L1387.4 851.3L1390.0 860.7L1392.6 846.7L1395.2 831.6L1397.8 853.3L1400.4 826.2L1403.0 831.9L1405.6 873.2L1408.2 859.2L1410.8 850.5L1413.4 865.0L1416.0 842.7L1418.6 857.6L1421.2 843.0L1423.8 853.2L1426.4 861.8L1429.0 881.2L1431.6 854.4L1434.3 876.1L1436.9 862.9L1439.5 841.2L1442.1 839.1L1444.7 854.4L1447.3 876.4L1449.9 866.3L1452.5 886.1L1455.1 867.2L1457.7 883.7L1460.3 871.6L1462.9 860.0L1465.5 880.8L1468.1 865.8L1470.7 859.6L1473.3 867.9L1475.9 872.8L1478.5 880.5L1481.1 887.6L1483.7 885.6L1486.4 902.1L1489.0 859.5L1491.6 879.4L1494.2 909.5L1496.8 880.8L1499.4 873.1L1502.0 880.3L1504.6 880.5L1507.2 887.2L1509.8 909.8L1512.4 882.5L1515.0 890.1L1517.6 909.8L1520.2 900.2L1522.8 900.9L1525.4 895.0L1528.0 906.8L1530.6 890.1L1533.2 907.5L1535.9 900.6L1538.5 898.5L1541.1 896.2L1543.7 909.3L1546.3 905.0L1548.9 899.9L1551.5 904.8L1554.1 896.3L1556.7 915.2L1559.3 916.5L1561.9 914.9L1564.5 908.8L1567.1 910.9L1569.7 897.4L1572.3 905.5L1574.9 907.4L1577.5 909.7L1580.1 916.7L1582.7 911.3L1585.4 911.4L1588.0 925.3L1590.6 917.2L1593.2 916.1L1595.8 908.9L1598.4 913.6L1601.0 920.7L1603.6 924.0L1606.2 913.1L1608.8 922.9L1611.4 924.8L1614.0 920.0L1616.6 922.8L1619.2 929.8L1621.8 917.6L1624.4 912.0L1627.0 919.1L1629.6 916.4L1632.2 921.8L1634.8 926.9L1637.5 929.2L1640.1 927.7L1642.7 933.9L1645.3 929.9L1647.9 933.2L1650.5 930.4L1653.1 930.3L1655.7 927.1L1658.3 929.4L1660.9 927.1L1663.5 928.5L1666.1 930.1L1668.7 934.8L1671.3 929.2L1673.9 933.0L1676.5 925.9L1679.1 930.0L1681.7 936.5L1684.3 933.3L1687.0 925.9L1689.6 932.8L1692.2 932.4L1694.8 929.5L1697.4 927.9L1700.0 930.7L1702.6 930.4L1705.2 936.3L1707.8 935.9L1710.4 936.1L1713.0 937.5L1715.6 926.7L1718.2 933.0L1720.8 935.1L1723.4 931.7L1726.0 931.9L1728.6 931.3L1731.2 934.5L1733.8 933.8L1736.5 938.0L1739.1 935.2L1741.7 934.7L1744.3 934.0L1746.9 931.7L1749.5 934.8L1752.1 937.1L1754.7 936.2L1757.3 931.7L1759.9 930.6L1762.5 937.4L1765.1 936.0L1767.7 936.4L1770.3 933.2L1772.9 937.9L1775.5 937.8L1778.1 935.0L1780.7 937.4L1783.3 933.2L1785.9 935.5L1788.6 930.1L1791.2 935.0L1793.8 939.8L1796.4 937.8L1799.0 939.8L1801.6 937.4L1804.2 936.5L1806.8 936.4L1809.4 934.7L1812.0 937.9L1812.0 941.3L248.9 941.3Z"/>
<path id="lACN" d="M246 906h3v35.7h-3zM249 900h3v41.7h-3zM252 900h3v15h-3zM255 897h3v18h-3zM258 897h3v15h-3zM261 897h3v9h-3zM264 891h3v15h-3zM267 888h3v15h-3zM270 879h3v18h-3zM273 876h3v18h-3zM276 870h6v21h-6zM282 870h3v12h-3zM285 867h3v15h-3zM288 867h3v21h-3zM291 873h3v18h-3zM294 867h3v24h-3zM297 864h3v15h-3zM300 867h3v12h-3zM303 864h3v15h-3zM306 849h3v27h-3zM309 846h3v21h-3zM312 846h3v18h-3zM315 855h3v12h-3zM318 858h3v9h-3zM321 846h3v21h-3zM324 837h3v30h-3zM327 831h3v24h-3zM330 831h3v9h-3zM333 825h3v18h-3zM336 825h6v21h-6zM342 828h3v15h-3zM345 828h3v9h-3zM348 807h3v30h-3zM351 804h3v30h-3zM354 804h3v33h-3zM357 810h3v24h-3zM360 795h3v27h-3zM363 789h3v33h-3zM366 789h3v12h-3zM369 792h3v30h-3zM372 798h3v27h-3zM375 813h3v18h-3zM378 819h3v18h-3zM381 816h3v24h-3zM384 810h3v27h-3zM387 804h3v15h-3zM390 795h3v18h-3zM393 795h6v21h-6zM399 798h3v18h-3zM402 795h3v18h-3zM405 795h3v24h-3zM408 801h6v21h-6zM414 798h3v15h-3zM417 795h3v15h-3zM420 798h3v9h-3zM423 795h3v9h-3zM426 789h3v15h-3zM429 792h3v21h-3zM432 786h3v30h-3zM435 783h3v30h-3zM438 786h3v30h-3zM441 777h3v36h-3zM444 768h3v27h-3zM447 765h3v39h-3zM450 768h3v39h-3zM453 780h6v27h-6zM459 792h3v15h-3zM462 795h3v18h-3zM465 768h3v45h-3zM468 765h6v42h-6zM474 771h3v48h-3zM477 786h3v33h-3zM480 777h3v39h-3zM483 774h3v21h-3zM486 774h3v27h-3zM489 768h3v33h-3zM492 771h3v27h-3zM495 777h3v24h-3zM498 792h3v15h-3zM501 792h3v24h-3zM504 780h3v36h-3zM507 780h3v24h-3zM510 780h3v18h-3zM513 786h3v15h-3zM516 786h6v36h-6zM522 786h3v33h-3zM525 786h3v21h-3zM528 786h6v15h-6zM534 786h9v30h-9zM543 780h3v36h-3zM546 780h3v27h-3zM549 759h3v48h-3zM552 756h3v51h-3zM555 759h3v36h-3zM558 768h3v33h-3zM561 789h3v15h-3zM564 780h3v24h-3zM567 777h3v33h-3zM570 777h3v36h-3zM573 783h3v27h-3zM576 780h3v30h-3zM579 783h3v39h-3zM582 780h3v42h-3zM585 774h3v42h-3zM588 774h3v15h-3zM591 780h3v18h-3zM594 783h3v21h-3zM597 774h6v30h-6zM603 777h3v24h-3zM606 786h3v15h-3zM609 753h3v45h-3zM612 753h6v42h-6zM618 762h3v33h-3zM621 765h3v27h-3zM624 765h3v24h-3zM627 762h3v30h-3zM630 762h3v33h-3zM633 756h3v36h-3zM636 753h3v21h-3zM639 744h3v24h-3zM642 732h3v36h-3zM645 732h3v27h-3zM648 717h3v30h-3zM651 717h3v45h-3zM654 717h3v48h-3zM657 723h3v42h-3zM660 702h3v60h-3zM663 702h3v45h-3zM666 705h3v30h-3zM669 702h3v30h-3zM672 684h3v42h-3zM675 681h3v42h-3zM678 681h3v12h-3zM681 672h3v15h-3zM684 666h3v30h-3zM687 651h3v48h-3zM690 645h3v54h-3zM693 636h3v33h-3zM696 633h3v48h-3zM699 615h3v66h-3zM702 615h3v57h-3zM705 600h3v63h-3zM708 597h3v63h-3zM711 597h3v30h-3zM714 582h3v30h-3zM717 582h3v48h-3zM720 585h3v45h-3zM723 588h3v33h-3zM726 582h3v36h-3zM729 579h3v27h-3zM732 567h3v33h-3zM735 561h3v39h-3zM738 534h3v60h-3zM741 534h3v54h-3zM744 474h3v90h-3zM747 471h3v93h-3zM750 471h3v54h-3zM753 489h3v36h-3zM756 483h3v30h-3zM759 474h3v57h-3zM762 459h3v72h-3zM765 459h3v57h-3zM768 480h3v36h-3zM771 477h3v30h-3zM774 477h3v24h-3zM777 438h3v66h-3zM780 426h3v72h-3zM783 426h3v39h-3zM786 423h3v42h-3zM789 426h3v21h-3zM792 429h3v30h-3zM795 432h3v42h-3zM798 426h3v48h-3zM801 423h3v45h-3zM804 423h3v21h-3zM807 372h3v72h-3zM810 372h3v63h-3zM813 366h3v33h-3zM816 366h3v48h-3zM819 369h3v48h-3zM822 342h3v75h-3zM825 336h3v69h-3zM828 330h3v57h-3zM831 327h3v57h-3zM834 312h3v51h-3zM837 306h3v54h-3zM840 303h3v36h-3zM843 303h3v42h-3zM846 318h3v30h-3zM849 294h3v57h-3zM852 291h3v57h-3zM855 294h3v48h-3zM858 300h3v51h-3zM861 303h3v48h-3zM864 297h3v48h-3zM867 300h3v24h-3zM870 303h3v12h-3zM873 291h3v27h-3zM876 288h3v42h-3zM879 252h3v81h-3zM882 243h3v78h-3zM885 243h3v63h-3zM888 273h3v45h-3zM891 291h3v30h-3zM894 294h3v24h-3zM897 291h3v21h-3zM900 270h3v27h-3zM903 246h3v51h-3zM906 243h3v42h-3zM909 243h3v21h-3zM912 222h3v45h-3zM915 222h3v42h-3zM918 222h3v27h-3zM921 222h3v36h-3zM924 234h3v51h-3zM927 243h3v60h-3zM930 270h3v69h-3zM933 285h3v57h-3zM936 300h3v39h-3zM939 282h3v45h-3zM942 273h3v54h-3zM945 273h3v90h-3zM948 288h3v78h-3zM951 324h3v42h-3zM954 324h3v36h-3zM957 327h3v33h-3zM960 330h3v24h-3zM963 318h3v36h-3zM966 318h6v81h-6zM972 366h3v33h-3zM975 360h3v15h-3zM978 324h3v48h-3zM981 315h3v69h-3zM984 315h3v129h-3zM987 351h3v96h-3zM990 390h3v54h-3zM993 384h3v42h-3zM996 384h3v48h-3zM999 390h3v48h-3zM1002 423h3v45h-3zM1005 429h3v42h-3zM1008 432h3v63h-3zM1011 435h3v63h-3zM1014 462h3v33h-3zM1017 462h3v24h-3zM1020 465h3v36h-3zM1023 477h3v27h-3zM1026 483h3v33h-3zM1029 486h3v63h-3zM1032 456h3v96h-3zM1035 450h3v99h-3zM1038 450h3v60h-3zM1041 465h3v51h-3zM1044 477h3v42h-3zM1047 477h3v57h-3zM1050 477h3v78h-3zM1053 513h3v42h-3zM1056 507h3v48h-3zM1059 507h3v60h-3zM1062 516h3v78h-3zM1065 537h3v60h-3zM1068 534h3v63h-3zM1071 537h3v57h-3zM1074 543h3v51h-3zM1077 552h3v45h-3zM1080 552h6v57h-6zM1086 552h3v72h-3zM1089 570h3v54h-3zM1092 591h3v42h-3zM1095 594h3v42h-3zM1098 597h3v51h-3zM1101 609h3v60h-3zM1104 630h3v42h-3zM1107 627h3v45h-3zM1110 627h3v24h-3zM1113 630h3v33h-3zM1116 624h3v39h-3zM1119 624h3v63h-3zM1122 630h3v60h-3zM1125 663h3v27h-3zM1128 660h3v24h-3zM1131 657h3v36h-3zM1134 648h3v48h-3zM1137 642h3v48h-3zM1140 642h3v60h-3zM1143 648h3v54h-3zM1146 654h3v48h-3zM1149 654h3v30h-3zM1152 654h3v57h-3zM1155 672h3v48h-3zM1158 669h3v60h-3zM1161 669h3v66h-3zM1164 696h3v39h-3zM1167 696h3v33h-3zM1170 696h3v30h-3zM1173 705h3v21h-3zM1176 705h3v18h-3zM1179 693h3v30h-3zM1182 693h3v87h-3zM1185 693h3v90h-3zM1188 744h3v36h-3zM1191 744h3v24h-3zM1194 750h3v27h-3zM1197 741h3v36h-3zM1200 735h3v39h-3zM1203 735h3v27h-3zM1206 747h6v27h-6zM1212 744h3v30h-3zM1215 750h3v30h-3zM1218 717h3v69h-3zM1221 711h3v75h-3zM1224 714h3v57h-3zM1227 744h3v33h-3zM1230 759h3v18h-3zM1233 750h3v27h-3zM1236 750h3v36h-3zM1239 759h3v27h-3zM1242 750h3v33h-3zM1245 747h6v39h-6zM1251 756h3v36h-3zM1254 756h3v45h-3zM1257 771h3v30h-3zM1260 771h3v21h-3zM1263 768h3v30h-3zM1266 771h3v33h-3zM1269 780h3v24h-3zM1272 777h3v24h-3zM1275 783h3v18h-3zM1278 780h3v30h-3zM1281 783h3v30h-3zM1284 783h3v27h-3zM1287 777h3v24h-3zM1290 774h3v51h-3zM1293 777h3v48h-3zM1296 786h6v33h-6zM1302 777h9v45h-9zM1311 786h3v33h-3zM1314 786h3v27h-3zM1317 786h3v54h-3zM1320 795h3v48h-3zM1323 804h3v39h-3zM1326 804h3v30h-3zM1329 792h6v42h-6zM1335 798h3v42h-3zM1338 813h3v30h-3zM1341 804h3v42h-3zM1344 798h3v45h-3zM1347 798h3v27h-3zM1350 798h3v39h-3zM1353 813h3v24h-3zM1356 804h3v36h-3zM1359 798h3v42h-3zM1362 798h3v54h-3zM1365 795h3v60h-3zM1368 795h3v57h-3zM1371 795h3v48h-3zM1374 819h6v21h-6zM1380 816h3v42h-3zM1383 819h3v39h-3zM1386 843h3v21h-3zM1389 837h3v27h-3zM1392 828h3v33h-3zM1395 828h3v30h-3zM1398 822h3v36h-3zM1401 822h3v54h-3zM1404 828h3v48h-3zM1407 849h3v27h-3zM1410 846h3v21h-3zM1413 840h3v30h-3zM1416 840h6v21h-6zM1422 840h3v27h-3zM1425 849h3v36h-3zM1428 852h3v33h-3zM1431 852h3v30h-3zM1434 843h3v36h-3zM1437 837h3v36h-3zM1440 834h3v24h-3zM1443 837h3v42h-3zM1446 849h3v30h-3zM1449 864h3v24h-3zM1452 864h3v27h-3zM1455 864h3v24h-3zM1458 858h3v30h-3zM1461 855h3v27h-3zM1464 858h3v27h-3zM1467 858h3v24h-3zM1470 855h3v18h-3zM1473 858h3v21h-3zM1476 867h3v21h-3zM1479 876h3v15h-3zM1482 882h3v21h-3zM1485 858h3v48h-3zM1488 855h3v48h-3zM1491 858h3v54h-3zM1494 873h3v39h-3zM1497 870h3v33h-3zM1500 870h3v15h-3zM1503 876h3v21h-3zM1506 879h6v33h-6zM1512 879h3v30h-3zM1515 882h3v30h-3zM1518 897h3v15h-3zM1521 894h3v12h-3zM1524 891h3v18h-3zM1527 888h3v21h-3zM1530 885h3v27h-3zM1533 891h3v21h-3zM1536 894h3v12h-3zM1539 894h6v18h-6zM1545 897h3v15h-3zM1548 897h3v12h-3zM1551 894h3v18h-3zM1554 894h3v24h-3zM1557 900h3v21h-3zM1560 906h6v12h-6zM1566 894h3v21h-3zM1569 894h3v18h-3zM1572 897h3v15h-3zM1575 903h3v15h-3zM1578 906h3v15h-3zM1581 909h3v12h-3zM1584 909h3v18h-3zM1587 909h3v21h-3zM1590 909h3v18h-3zM1593 906h6v15h-6zM1599 909h3v18h-3zM1602 912h3v15h-3zM1605 909h3v18h-3zM1608 912h3v15h-3zM1611 918h3v9h-3zM1614 918h3v12h-3zM1617 915h3v18h-3zM1620 909h3v24h-3zM1623 909h6v15h-6zM1629 912h3v15h-3zM1632 915h3v15h-3zM1635 921h3v12h-3zM1638 924h3v12h-3zM1641 924h3v15h-3zM1644 927h9v9h-9zM1653 924h12v9h-12zM1665 927h6v12h-6zM1671 927h3v9h-3zM1674 921h3v15h-3zM1677 924h3v15h-3zM1680 927h3v12h-3zM1683 924h3v15h-3zM1686 921h3v15h-3zM1689 924h3v12h-3zM1692 927h3v9h-3zM1695 924h6v9h-6zM1701 927h6v12h-6zM1707 933h3v6h-3zM1710 927h3v14.7h-3zM1713 924h3v17.7h-3zM1716 924h3v12h-3zM1719 930h3v9h-3zM1722 927h3v12h-3zM1725 927h3v9h-3zM1728 927h3v12h-3zM1731 930h3v9h-3zM1734 930h3v11.7h-3zM1737 933h3v8.7h-3zM1740 930h6v9h-6zM1746 927h3v12h-3zM1749 930h3v9h-3zM1752 930h3v11.7h-3zM1755 927h6v12h-6zM1761 927h3v14.7h-3zM1764 933h3v6h-3zM1767 930h3v9h-3zM1770 930h3v11.7h-3zM1773 933h3v8.7h-3zM1776 930h6v11.7h-6zM1782 930h3v9h-3zM1785 927h6v12h-6zM1791 930h3v11.7h-3zM1794 933h3v8.7h-3zM1797 936h3v5.7h-3zM1800 933h3v8.7h-3zM1803 933h6v6h-6zM1809 930h3v11.7h-3zM1812 933h3v8.7h-3z"/>
<path id="fDMSO" d="M118.3 1082.5L120.9 1083.8L123.5 1083.9L126.1 1083.0L128.7 1080.4L131.3 1081.5L133.9 1079.9L136.6 1078.6L139.2 1076.9L141.8 1074.6L144.4 1072.7L147.0 1065.9L149.6 1063.9L152.2 1063.9L154.8 1058.0L157.4 1058.3L160.0 1055.2L162.6 1054.4L165.2 1053.3L167.8 1048.2L170.5 1047.6L173.1 1045.2L175.7 1045.1L178.3 1042.7L180.9 1044.1L183.5 1039.2L186.1 1040.9L188.7 1035.8L191.3 1035.0L193.9 1032.7L196.5 1030.8L199.1 1027.1L201.8 1027.6L204.4 1026.0L207.0 1024.2L209.6 1023.4L212.2 1019.5L214.8 1019.1L217.4 1017.0L220.0 1013.5L222.6 1015.4L225.2 1011.6L227.8 1010.3L230.4 1012.2L233.0 1005.9L235.7 1003.0L238.3 1002.2L240.9 999.9L243.5 998.1L246.1 990.4L248.7 992.0L251.3 985.3L253.9 980.8L256.5 979.3L259.1 981.9L261.7 979.8L264.3 979.5L266.9 973.5L269.6 972.8L272.2 968.7L274.8 962.9L277.4 961.5L280.0 959.1L282.6 953.4L285.2 946.8L287.8 949.6L290.4 944.7L293.0 945.8L295.6 945.9L298.2 941.6L300.8 937.7L303.5 935.8L306.1 927.5L308.7 921.3L311.3 920.6L313.9 916.1L316.5 915.0L319.1 908.9L321.7 908.4L324.3 897.9L326.9 891.4L329.5 880.1L332.1 880.8L334.8 872.5L337.4 868.0L340.0 857.6L342.6 857.4L345.2 851.7L347.8 851.8L350.4 841.4L353.0 842.7L355.6 840.9L358.2 831.6L360.8 831.2L363.4 824.5L366.0 823.7L368.7 821.0L371.3 820.1L373.9 813.8L376.5 808.3L379.1 808.6L381.7 804.5L384.3 805.0L386.9 798.3L389.5 801.2L392.1 796.2L394.7 794.8L397.3 795.6L399.9 790.6L402.6 789.9L405.2 792.0L407.8 789.8L410.4 789.6L413.0 788.5L415.6 788.5L418.2 791.0L420.8 794.1L423.4 788.5L426.0 794.1L428.6 792.8L431.2 795.1L433.8 793.3L436.5 791.7L439.1 794.1L441.7 793.2L444.3 792.3L446.9 797.8L449.5 799.9L452.1 799.7L454.7 802.3L457.3 798.9L459.9 807.2L462.5 805.3L465.1 807.2L467.7 810.5L470.4 808.7L473.0 819.0L475.6 817.4L478.2 819.8L480.8 819.6L483.4 820.2L486.0 826.3L488.6 825.6L491.2 830.9L493.8 833.7L496.4 839.1L499.0 839.6L501.7 841.2L504.3 846.7L506.9 844.3L509.5 844.7L512.1 846.2L514.7 853.2L517.3 851.4L519.9 852.8L522.5 853.6L525.1 861.4L527.7 870.4L530.3 875.7L532.9 882.0L535.6 878.7L538.2 884.8L540.8 889.7L543.4 882.5L546.0 897.4L548.6 890.6L551.2 893.0L553.8 900.9L556.4 901.7L559.0 906.1L561.6 906.7L564.2 908.0L566.8 909.0L569.5 909.3L572.1 914.9L574.7 910.1L577.3 916.8L579.9 921.5L582.5 918.5L585.1 926.4L587.7 929.7L590.3 930.9L592.9 934.3L595.5 940.0L598.1 943.7L600.7 943.9L603.4 952.2L606.0 952.6L608.6 952.8L611.2 955.4L613.8 956.6L616.4 950.9L619.0 963.1L621.6 954.1L624.2 960.1L626.8 958.2L629.4 964.5L632.0 965.7L634.7 967.0L637.3 961.1L639.9 972.6L642.5 973.4L645.1 969.6L647.7 981.2L650.3 978.8L652.9 979.0L655.5 984.0L658.1 983.2L660.7 987.3L663.3 986.9L665.9 987.1L668.6 987.9L671.2 994.2L673.8 993.4L676.4 992.1L679.0 993.7L681.6 994.6L684.2 1005.3L686.8 1004.0L689.4 1005.9L692.0 1010.3L694.6 1005.3L697.2 1004.5L699.8 1006.3L702.5 1008.3L705.1 1007.9L707.7 1008.6L710.3 1011.7L712.9 1012.4L715.5 1013.0L718.1 1019.2L720.7 1017.7L723.3 1018.4L725.9 1021.1L728.5 1021.5L731.1 1018.3L733.7 1019.9L736.4 1019.1L739.0 1020.6L741.6 1025.5L744.2 1024.7L746.8 1024.7L749.4 1024.8L752.0 1032.1L754.6 1028.6L757.2 1030.8L759.8 1030.6L762.4 1029.0L765.0 1033.1L767.7 1033.3L770.3 1038.0L772.9 1038.4L775.5 1035.6L778.1 1038.8L780.7 1039.1L783.3 1039.4L785.9 1036.7L788.5 1035.8L791.1 1039.8L793.7 1041.2L796.3 1038.0L798.9 1045.9L801.6 1043.7L804.2 1041.7L806.8 1048.5L809.4 1040.8L812.0 1042.8L814.6 1043.5L817.2 1049.8L819.8 1046.3L822.4 1050.5L825.0 1049.7L827.6 1047.7L830.2 1049.4L832.8 1046.3L835.5 1051.0L838.1 1046.8L840.7 1047.1L843.3 1052.8L845.9 1053.2L848.5 1059.8L851.1 1057.8L853.7 1049.5L856.3 1052.4L858.9 1051.5L861.5 1058.1L864.1 1054.4L866.7 1056.8L869.4 1059.6L872.0 1060.2L874.6 1058.9L877.2 1061.7L879.8 1060.1L882.4 1059.5L885.0 1064.8L887.6 1062.1L890.2 1059.8L892.8 1059.4L895.4 1062.1L898.0 1060.7L900.6 1061.1L903.3 1066.6L905.9 1064.6L908.5 1064.4L911.1 1066.7L913.7 1065.9L916.3 1068.0L918.9 1072.2L921.5 1069.0L924.1 1068.2L926.7 1067.4L929.3 1071.1L931.9 1069.7L934.6 1070.9L937.2 1067.1L939.8 1069.6L942.4 1070.7L945.0 1071.8L947.6 1071.7L950.2 1071.3L952.8 1075.0L955.4 1073.4L958.0 1070.4L960.6 1072.6L963.2 1075.5L965.8 1076.4L968.5 1073.9L971.1 1074.5L973.7 1077.6L976.3 1077.7L978.9 1078.1L981.5 1079.0L984.1 1078.0L986.7 1076.7L989.3 1080.5L991.9 1080.3L994.5 1081.6L997.1 1079.6L999.7 1079.1L1002.4 1079.4L1005.0 1079.7L1007.6 1076.2L1010.2 1079.2L1012.8 1079.0L1015.4 1080.4L1018.0 1080.7L1020.6 1080.3L1023.2 1080.9L1025.8 1080.4L1028.4 1083.6L1031.0 1082.9L1033.6 1083.5L1036.3 1085.9L1038.9 1086.1L1041.5 1084.4L1044.1 1087.4L1046.7 1086.3L1049.3 1085.6L1051.9 1084.5L1054.5 1084.7L1057.1 1087.4L1059.7 1083.9L1062.3 1088.8L1064.9 1087.7L1067.6 1086.7L1070.2 1089.3L1072.8 1087.8L1075.4 1086.3L1078.0 1087.2L1080.6 1086.9L1083.2 1087.0L1085.8 1090.7L1088.4 1088.8L1091.0 1088.6L1093.6 1089.7L1096.2 1089.6L1098.8 1088.4L1101.5 1088.2L1104.1 1087.3L1106.7 1090.3L1109.3 1089.2L1111.9 1090.5L1114.5 1089.7L1117.1 1088.5L1119.7 1089.4L1122.3 1091.6L1124.9 1089.8L1127.5 1091.0L1130.1 1088.6L1132.7 1090.3L1135.4 1092.1L1138.0 1089.8L1140.6 1092.7L1143.2 1091.5L1145.8 1091.6L1148.4 1093.6L1151.0 1092.1L1153.6 1093.7L1156.2 1092.6L1158.8 1093.5L1161.4 1094.2L1164.0 1094.4L1166.6 1093.5L1169.3 1091.9L1171.9 1095.3L1174.5 1093.5L1177.1 1095.0L1179.7 1093.4L1182.3 1093.8L1184.9 1094.3L1187.5 1094.3L1190.1 1095.8L1192.7 1093.1L1195.3 1094.1L1197.9 1094.8L1200.6 1095.0L1203.2 1094.8L1205.8 1095.0L1208.4 1095.7L1211.0 1094.7L1213.6 1094.8L1216.2 1095.2L1218.8 1095.9L1221.4 1094.6L1224.0 1097.0L1226.6 1095.7L1229.2 1095.7L1231.8 1096.2L1234.5 1095.9L1237.1 1096.3L1239.7 1096.9L1242.3 1097.7L1244.9 1098.1L1247.5 1097.6L1250.1 1097.9L1252.7 1098.5L1255.3 1097.3L1257.9 1098.5L1260.5 1099.4L1263.1 1099.8L1265.7 1098.9L1268.4 1098.3L1271.0 1098.9L1273.6 1100.0L1276.2 1100.6L1278.8 1099.4L1281.4 1098.8L1284.0 1099.8L1286.6 1100.2L1289.2 1100.4L1291.8 1100.2L1294.4 1101.4L1297.0 1100.2L1299.6 1101.7L1302.3 1099.7L1304.9 1101.2L1307.5 1101.1L1310.1 1101.0L1312.7 1100.2L1315.3 1100.6L1317.9 1100.1L1320.5 1100.8L1323.1 1101.0L1325.7 1101.2L1328.3 1100.4L1330.9 1100.7L1333.6 1100.1L1336.2 1101.2L1338.8 1100.7L1341.4 1101.8L1344.0 1101.1L1346.6 1101.7L1349.2 1101.3L1351.8 1101.5L1354.4 1101.5L1357.0 1101.1L1359.6 1102.1L1362.2 1101.3L1364.8 1102.4L1367.5 1100.7L1370.1 1101.7L1372.7 1102.3L1375.3 1102.4L1377.9 1101.2L1380.5 1102.2L1383.1 1102.2L1385.7 1102.3L1388.3 1102.1L1390.9 1101.9L1393.5 1102.4L1396.1 1102.6L1398.7 1102.8L1401.4 1102.4L1404.0 1102.2L1406.6 1102.8L1409.2 1102.0L1411.8 1102.3L1414.4 1102.4L1417.0 1102.7L1419.6 1102.8L1422.2 1103.5L1424.8 1103.1L1427.4 1103.2L1430.0 1102.7L1432.6 1102.5L1435.3 1102.8L1437.9 1102.8L1440.5 1103.8L1443.1 1103.6L1445.7 1103.4L1448.3 1103.1L1450.9 1102.7L1453.5 1103.0L1456.1 1103.0L1458.7 1102.9L1461.3 1103.4L1463.9 1103.9L1466.5 1104.0L1469.2 1103.2L1471.8 1103.4L1474.4 1103.5L1477.0 1103.1L1479.6 1103.8L1482.2 1103.6L1484.8 1103.5L1487.4 1103.6L1490.0 1103.3L1492.6 1103.4L1495.2 1103.9L1497.8 1103.9L1500.5 1103.6L1503.1 1103.1L1505.7 1104.4L1508.3 1103.8L1510.9 1103.9L1513.5 1103.3L1516.1 1103.8L1518.7 1103.9L1521.3 1103.8L1523.9 1104.1L1526.5 1103.2L1529.1 1104.1L1531.7 1103.6L1534.4 1103.6L1537.0 1103.8L1539.6 1103.9L1542.2 1103.9L1544.8 1103.7L1547.4 1104.0L1550.0 1104.7L1552.6 1104.1L1555.2 1103.8L1557.8 1104.3L1560.4 1104.2L1563.0 1103.7L1565.6 1104.3L1568.3 1103.6L1570.9 1104.1L1573.5 1104.6L1576.1 1103.6L1578.7 1103.9L1581.3 1103.8L1583.9 1104.4L1586.5 1103.8L1589.1 1104.0L1591.7 1104.2L1594.3 1104.4L1596.9 1104.3L1599.5 1103.8L1602.2 1103.6L1604.8 1104.4L1607.4 1104.2L1610.0 1104.3L1612.6 1104.0L1615.2 1104.2L1617.8 1104.6L1620.4 1103.8L1623.0 1104.2L1625.6 1103.8L1628.2 1104.6L1630.8 1104.3L1633.5 1104.0L1636.1 1103.8L1638.7 1104.3L1641.3 1104.4L1643.9 1104.3L1646.5 1104.7L1649.1 1104.1L1651.7 1104.6L1654.3 1104.8L1656.9 1104.2L1659.5 1104.6L1662.1 1104.8L1664.7 1104.1L1667.4 1104.3L1670.0 1104.1L1672.6 1104.6L1675.2 1104.9L1677.8 1104.1L1680.4 1104.5L1683.0 1105.2L1683.0 1107.0L118.3 1107.0Z"/>
<path id="lDMSO" d="M114 1080h3v28.6h-3zM117 1080h3v28.6h-3zM120 1080h3v28.6h-3zM123 1080h3v6h-3zM126 1077h9v9h-9zM135 1074h3v9h-3zM138 1071h3v9h-3zM141 1068h3v12h-3zM144 1062h3v15h-3zM147 1059h3v12h-3zM150 1056h3v12h-3zM153 1053h3v15h-3zM156 1053h3v9h-3zM159 1050h6v9h-6zM165 1044h3v12h-3zM168 1044h3v9h-3zM171 1041h6v9h-6zM177 1038h3v9h-3zM180 1035h3v12h-3zM183 1035h3v9h-3zM186 1032h3v12h-3zM189 1032h3v9h-3zM192 1029h3v9h-3zM195 1023h3v12h-3zM198 1023h6v9h-6zM204 1020h3v9h-3zM207 1017h3v12h-3zM210 1017h3v9h-3zM213 1014h3v9h-3zM216 1011h3v12h-3zM219 1011h3v9h-3zM222 1008h3v12h-3zM225 1008h3v9h-3zM228 1005h3v12h-3zM231 1002h3v12h-3zM234 999h3v12h-3zM237 996h3v9h-3zM240 993h3v12h-3zM243 987h3v15h-3zM246 984h3v15h-3zM249 978h3v18h-3zM252 978h3v12h-3zM255 975h3v9h-3zM258 978h3v9h-3zM261 975h3v9h-3zM264 969h3v15h-3zM267 969h3v9h-3zM270 960h3v15h-3zM273 960h3v12h-3zM276 957h3v9h-3zM279 948h3v15h-3zM282 945h3v15h-3zM285 942h6v12h-6zM291 942h3v6h-3zM294 939h3v12h-3zM297 936h3v12h-3zM300 930h3v12h-3zM303 921h3v18h-3zM306 918h3v18h-3zM309 915h3v12h-3zM312 912h3v12h-3zM315 906h3v12h-3zM318 903h3v15h-3zM321 894h3v18h-3zM324 882h3v27h-3zM327 876h3v21h-3zM330 870h3v18h-3zM333 864h3v21h-3zM336 855h3v21h-3zM339 852h3v18h-3zM342 849h3v12h-3zM345 843h3v15h-3zM348 837h3v18h-3zM351 837h3v12h-3zM354 828h3v18h-3zM357 828h3v15h-3zM360 822h3v12h-3zM363 819h3v12h-3zM366 816h3v12h-3zM369 813h3v12h-3zM372 807h3v15h-3zM375 804h3v12h-3zM378 801h3v12h-3zM381 798h3v12h-3zM384 795h3v15h-3zM387 795h3v9h-3zM390 792h3v12h-3zM393 792h3v9h-3zM396 789h3v9h-3zM399 786h3v12h-3zM402 786h6v9h-6zM408 786h6v6h-6zM414 786h3v9h-3zM417 786h9v12h-9zM426 789h18v9h-18zM444 789h3v12h-3zM447 792h3v12h-3zM450 795h3v9h-3zM453 795h3v12h-3zM456 795h3v15h-3zM459 798h3v12h-3zM462 801h3v9h-3zM465 804h3v9h-3zM468 804h3v15h-3zM471 807h3v15h-3zM474 813h3v9h-3zM477 816h6v9h-6zM483 816h3v15h-3zM486 819h3v12h-3zM489 822h3v15h-3zM492 828h3v12h-3zM495 831h3v12h-3zM498 837h3v9h-3zM501 837h3v12h-3zM504 840h6v9h-6zM510 843h3v12h-3zM513 843h3v15h-3zM516 849h3v6h-3zM519 849h3v9h-3zM522 849h3v21h-3zM525 855h3v21h-3zM528 864h3v18h-3zM531 873h3v12h-3zM534 876h3v12h-3zM537 876h3v18h-3zM540 879h3v15h-3zM543 879h3v21h-3zM546 885h3v15h-3zM549 888h3v15h-3zM552 891h3v15h-3zM555 897h3v12h-3zM558 900h3v9h-3zM561 903h6v9h-6zM567 906h3v9h-3zM570 906h6v12h-6zM576 909h3v15h-3zM579 915h3v9h-3zM582 915h3v15h-3zM585 918h3v15h-3zM588 927h3v9h-3zM591 927h3v15h-3zM594 933h3v12h-3zM597 939h3v9h-3zM600 939h3v15h-3zM603 945h3v12h-3zM606 948h3v9h-3zM609 951h3v9h-3zM612 948h3v12h-3zM615 948h6v18h-6zM621 951h3v12h-3zM624 954h3v12h-3zM627 954h3v15h-3zM630 960h3v9h-3zM633 960h3v12h-3zM636 957h3v18h-3zM639 960h3v18h-3zM642 966h3v12h-3zM645 966h3v18h-3zM648 972h3v12h-3zM651 975h6v12h-6zM657 981h6v9h-6zM663 984h3v6h-3zM666 984h3v12h-3zM669 984h3v15h-3zM672 990h3v6h-3zM675 987h3v9h-3zM678 990h3v12h-3zM681 990h3v18h-3zM684 996h3v12h-3zM687 1002h3v9h-3zM690 1002h6v12h-6zM696 1002h3v6h-3zM699 1002h3v9h-3zM702 1005h3v6h-3zM705 1005h6v9h-6zM711 1008h3v9h-3zM714 1008h3v15h-3zM717 1011h3v12h-3zM720 1014h3v9h-3zM723 1014h3v12h-3zM726 1017h3v9h-3zM729 1014h3v12h-3zM732 1014h6v9h-6zM738 1017h3v12h-3zM741 1020h6v9h-6zM747 1020h3v12h-3zM750 1023h3v12h-3zM753 1026h12v9h-12zM765 1029h3v9h-3zM768 1029h3v12h-3zM771 1032h6v9h-6zM777 1032h3v12h-3zM780 1035h3v9h-3zM783 1032h3v12h-3zM786 1032h3v9h-3zM789 1032h3v12h-3zM792 1035h3v9h-3zM795 1035h6v15h-6zM801 1038h3v9h-3zM804 1038h6v15h-6zM810 1038h3v9h-3zM813 1041h6v12h-6zM819 1044h15v9h-15zM834 1044h3v12h-3zM837 1044h3v9h-3zM840 1044h3v12h-3zM843 1047h3v12h-3zM846 1050h3v12h-3zM849 1047h6v15h-6zM855 1047h3v9h-3zM858 1047h3v15h-3zM861 1050h6v12h-6zM867 1053h3v9h-3zM870 1056h12v9h-12zM882 1056h3v12h-3zM885 1059h3v9h-3zM888 1056h12v9h-12zM900 1056h3v15h-3zM903 1062h3v9h-3zM906 1062h3v6h-3zM909 1062h6v9h-6zM915 1062h3v12h-3zM918 1065h3v12h-3zM921 1065h3v9h-3zM924 1065h3v6h-3zM927 1065h9v9h-9zM936 1062h3v12h-3zM939 1065h3v9h-3zM942 1068h6v6h-6zM948 1068h3v9h-3zM951 1068h3v12h-3zM954 1068h6v9h-6zM960 1068h3v12h-3zM963 1071h12v9h-12zM975 1074h3v6h-3zM978 1074h12v9h-12zM990 1077h3v6h-3zM993 1077h3v9h-3zM996 1077h3v6h-3zM999 1074h15v9h-15zM1014 1077h9v6h-9zM1023 1077h6v9h-6zM1029 1080h3v6h-3zM1032 1080h9v9h-9zM1041 1080h3v12h-3zM1044 1083h3v9h-3zM1047 1083h3v6h-3zM1050 1080h6v9h-6zM1056 1080h6v12h-6zM1062 1083h21v9h-21zM1083 1083h3v12h-3zM1086 1086h3v9h-3zM1089 1086h12v6h-12zM1101 1083h3v9h-3zM1104 1083h3v12h-3zM1107 1086h9v9h-9zM1116 1086h3v6h-3zM1119 1086h21v9h-21zM1140 1089h6v6h-6zM1146 1089h15v9h-15zM1161 1092h3v6h-3zM1164 1089h21v9h-21zM1185 1092h6v6h-6zM1191 1089h6v9h-6zM1197 1092h21v6h-21zM1218 1092h9v9h-9zM1227 1092h3v6h-3zM1230 1092h12v9h-12zM1242 1095h15v6h-15zM1257 1095h9v9h-9zM1266 1095h3v6h-3zM1269 1095h18v9h-18zM1287 1098h9v6h-9zM1296 1095h9v9h-9zM1305 1098h12v6h-12zM1317 1095h3v9h-3zM1320 1098h12v6h-12zM1332 1095h3v9h-3zM1335 1098h24v6h-24zM1359 1098h9v9h-9zM1368 1098h3v6h-3zM1371 1098h6v9h-6zM1377 1098h3v6h-3zM1380 1098h42v9h-42zM1422 1101h3v6h-3zM1425 1098h15v9h-15zM1440 1101h6v6h-6zM1446 1098h15v9h-15zM1461 1101h15v6h-15zM1476 1098h3v9h-3zM1479 1101h195v6h-195zM1674 1101h3v7.6h-3zM1677 1101h3v6h-3zM1680 1101h6v7.6h-6z"/>
<clipPath id="cEtOAc"><use href="#fEtOAc"/></clipPath>
<clipPath id="cACN"><use href="#fACN"/></clipPath>
<clipPath id="cDMSO"><use href="#fDMSO"/></clipPath>
</defs>
<rect width="2362" height="1366" fill="#fff"/>
<g fill="none" stroke-linecap="butt">
<line x1="183.1" y1="1190.3" x2="702.6" y2="529.4" stroke="#d0d0d0" stroke-width="1.6" stroke-dasharray="2.6 13.2"/>
<line x1="443.7" y1="1190.3" x2="963.2" y2="529.4" stroke="#d0d0d0" stroke-width="1.6" stroke-dasharray="2.6 13.2"/>
<line x1="704.3" y1="1190.3" x2="1223.8" y2="529.4" stroke="#d0d0d0" stroke-width="1.6" stroke-dasharray="2.6 13.2"/>
<line x1="965.0" y1="1190.3" x2="1484.4" y2="529.4" stroke="#d0d0d0" stroke-width="1.6" stroke-dasharray="2.6 13.2"/>
<line x1="1225.6" y1="1190.3" x2="1745.0" y2="529.4" stroke="#d0d0d0" stroke-width="1.6" stroke-dasharray="2.6 13.2"/>
<line x1="1486.2" y1="1190.3" x2="2005.7" y2="529.4" stroke="#d0d0d0" stroke-width="1.6" stroke-dasharray="2.6 13.2"/>
<line x1="52.8" y1="1190.3" x2="572.3" y2="529.4" stroke="#a0a0a0" stroke-width="1.4" stroke-dasharray="9.5 7.7"/>
<line x1="313.4" y1="1190.3" x2="832.9" y2="529.4" stroke="#a0a0a0" stroke-width="1.4" stroke-dasharray="9.5 7.7"/>
<line x1="574.0" y1="1190.3" x2="1093.5" y2="529.4" stroke="#a0a0a0" stroke-width="1.4" stroke-dasharray="9.5 7.7"/>
<line x1="834.6" y1="1190.3" x2="1354.1" y2="529.4" stroke="#a0a0a0" stroke-width="1.4" stroke-dasharray="9.5 7.7"/>
<line x1="1095.3" y1="1190.3" x2="1614.7" y2="529.4" stroke="#a0a0a0" stroke-width="1.4" stroke-dasharray="9.5 7.7"/>
<line x1="1355.9" y1="1190.3" x2="1875.4" y2="529.4" stroke="#a0a0a0" stroke-width="1.4" stroke-dasharray="9.5 7.7"/>
<line x1="1616.5" y1="1190.3" x2="2136.0" y2="529.4" stroke="#a0a0a0" stroke-width="1.4" stroke-dasharray="9.5 7.7"/>
<line x1="21.6" y1="1190.3" x2="541.1" y2="529.4" stroke="#000" stroke-width="2.2" stroke-dasharray="4 12.4"/>
<line x1="86.9" y1="1107.2" x2="1713.3" y2="1107.2" stroke="#808080" stroke-width="3"/>
<line x1="346.8" y1="776.6" x2="1973.2" y2="776.6" stroke="#808080" stroke-width="3"/>
</g>
<use href="#fToluene" fill="rgb(193,231,249)" fill-opacity="0.50"/>
<use href="#fEtOAc" fill="rgb(255,213,213)" fill-opacity="0.50"/>
<use href="#fACN" fill="rgb(171,247,187)" fill-opacity="0.50"/>
<use href="#fDMSO" fill="rgb(255,201,251)" fill-opacity="0.50"/>
<g fill="none" stroke-linecap="butt" opacity="0.12">
<line x1="183.1" y1="1190.3" x2="702.6" y2="529.4" stroke="#d0d0d0" stroke-width="1.6" stroke-dasharray="2.6 13.2"/>
<line x1="443.7" y1="1190.3" x2="963.2" y2="529.4" stroke="#d0d0d0" stroke-width="1.6" stroke-dasharray="2.6 13.2"/>
<line x1="704.3" y1="1190.3" x2="1223.8" y2="529.4" stroke="#d0d0d0" stroke-width="1.6" stroke-dasharray="2.6 13.2"/>
<line x1="965.0" y1="1190.3" x2="1484.4" y2="529.4" stroke="#d0d0d0" stroke-width="1.6" stroke-dasharray="2.6 13.2"/>
<line x1="1225.6" y1="1190.3" x2="1745.0" y2="529.4" stroke="#d0d0d0" stroke-width="1.6" stroke-dasharray="2.6 13.2"/>
<line x1="1486.2" y1="1190.3" x2="2005.7" y2="529.4" stroke="#d0d0d0" stroke-width="1.6" stroke-dasharray="2.6 13.2"/>
<line x1="52.8" y1="1190.3" x2="572.3" y2="529.4" stroke="#a0a0a0" stroke-width="1.4" stroke-dasharray="9.5 7.7"/>
<line x1="313.4" y1="1190.3" x2="832.9" y2="529.4" stroke="#a0a0a0" stroke-width="1.4" stroke-dasharray="9.5 7.7"/>
<line x1="574.0" y1="1190.3" x2="1093.5" y2="529.4" stroke="#a0a0a0" stroke-width="1.4" stroke-dasharray="9.5 7.7"/>
<line x1="834.6" y1="1190.3" x2="1354.1" y2="529.4" stroke="#a0a0a0" stroke-width="1.4" stroke-dasharray="9.5 7.7"/>
<line x1="1095.3" y1="1190.3" x2="1614.7" y2="529.4" stroke="#a0a0a0" stroke-width="1.4" stroke-dasharray="9.5 7.7"/>
<line x1="1355.9" y1="1190.3" x2="1875.4" y2="529.4" stroke="#a0a0a0" stroke-width="1.4" stroke-dasharray="9.5 7.7"/>
<line x1="1616.5" y1="1190.3" x2="2136.0" y2="529.4" stroke="#a0a0a0" stroke-width="1.4" stroke-dasharray="9.5 7.7"/>
<line x1="21.6" y1="1190.3" x2="541.1" y2="529.4" stroke="#000" stroke-width="2.2" stroke-dasharray="4 12.4"/>
</g>
<use href="#lToluene" fill="#0000ff"/>
<use href="#lToluene" fill="#6040e8" clip-path="url(#cEtOAc)"/>
<use href="#lToluene" fill="#788cd8" clip-path="url(#cACN)"/>
<use href="#lEtOAc" fill="#ff0000"/>
<use href="#lEtOAc" fill="#ff6040" clip-path="url(#cACN)"/>
<use href="#lACN" fill="#008000"/>
<use href="#lACN" fill="#169157" clip-path="url(#cDMSO)"/>
<use href="#lDMSO" fill="#ff007f"/>
<g stroke="#000" fill="none" stroke-linecap="butt">
<line x1="21.6" y1="1190.3" x2="1650.0" y2="1190.3" stroke-width="5.4"/>
<line x1="52.8" y1="1190.3" x2="52.8" y2="1210.0" stroke-width="3.2"/>
<line x1="313.4" y1="1190.3" x2="313.4" y2="1210.0" stroke-width="3.2"/>
<line x1="574.0" y1="1190.3" x2="574.0" y2="1210.0" stroke-width="3.2"/>
<line x1="834.6" y1="1190.3" x2="834.6" y2="1210.0" stroke-width="3.2"/>
<line x1="1095.3" y1="1190.3" x2="1095.3" y2="1210.0" stroke-width="3.2"/>
<line x1="1355.9" y1="1190.3" x2="1355.9" y2="1210.0" stroke-width="3.2"/>
<line x1="1616.5" y1="1190.3" x2="1616.5" y2="1210.0" stroke-width="3.2"/>
<line x1="183.1" y1="1190.3" x2="183.1" y2="1198.5" stroke-width="3.2"/>
<line x1="443.7" y1="1190.3" x2="443.7" y2="1198.5" stroke-width="3.2"/>
<line x1="704.3" y1="1190.3" x2="704.3" y2="1198.5" stroke-width="3.2"/>
<line x1="965.0" y1="1190.3" x2="965.0" y2="1198.5" stroke-width="3.2"/>
<line x1="1225.6" y1="1190.3" x2="1225.6" y2="1198.5" stroke-width="3.2"/>
<line x1="1486.2" y1="1190.3" x2="1486.2" y2="1198.5" stroke-width="3.2"/>
<line x1="1648.0" y1="1192.8" x2="2167.5" y2="529.4" stroke-width="3.3"/>
<line x1="1713.3" y1="1107.2" x2="1731.3" y2="1107.2" stroke-width="3.0"/>
<line x1="1843.8" y1="941.2" x2="1861.8" y2="941.2" stroke-width="5.6"/>
<line x1="1973.2" y1="776.6" x2="1991.2" y2="776.6" stroke-width="3.0"/>
<line x1="2103.3" y1="611.0" x2="2121.3" y2="611.0" stroke-width="5.6"/>
</g>
<g font-size="55.5" text-anchor="middle" letter-spacing="-0.8">
<text x="52.4" y="1263.4">600</text>
<text x="313.0" y="1263.4">650</text>
<text x="573.6" y="1263.4">700</text>
<text x="834.2" y="1263.4">750</text>
<text x="1094.9" y="1263.4">800</text>
<text x="1355.5" y="1263.4">850</text>
<text x="1616.1" y="1263.4">900</text>
</g>
<text x="835.8" y="1343.4" font-size="67" text-anchor="middle">Wavelength /nm</text>
<text transform="matrix(1 0 -0.601 0.765 2146.8 635.3)" font-size="55" x="0" y="0">Toluene</text>
<text transform="matrix(1 0 -0.601 0.765 2016.7 799.6)" font-size="54.3" x="0" y="0">EtOAc</text>
<text transform="matrix(1 0 -0.601 0.765 1887.3 965.5)" font-size="54" x="0" y="0">ACN</text>
<text transform="matrix(1 0 -0.601 0.765 1756.8 1129.5)" font-size="54" x="0" y="0">DMSO</text>
</svg></body></html>
